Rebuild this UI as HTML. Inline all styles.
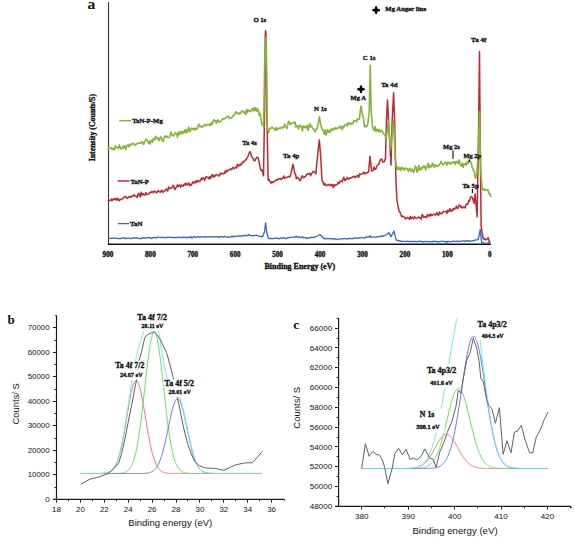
<!DOCTYPE html>
<html><head><meta charset="utf-8"><style>
html,body{margin:0;padding:0;background:#fff;width:575px;height:540px;overflow:hidden;}
svg{display:block;}
svg text{font-family:"Liberation Serif",serif;font-weight:bold;fill:#111;}
svg text.s{font-family:"Liberation Sans",sans-serif;font-weight:normal;}
</style></head><body>
<svg width="575" height="540" viewBox="0 0 575 540">
<g><line x1="108.5" y1="2" x2="108.5" y2="244.5" stroke="#333" stroke-width="1.1"/><line x1="108" y1="244.3" x2="490.8" y2="244.3" stroke="#111" stroke-width="1.4"/><polyline points="108.0,238.4 109.0,238.7 110.0,238.4 111.0,238.4 112.0,238.4 113.0,238.0 114.0,238.2 115.0,238.2 116.0,238.3 117.0,238.0 118.0,238.5 119.0,238.7 120.0,238.6 121.0,238.5 122.0,238.2 123.0,238.0 124.0,238.1 125.0,237.9 126.0,238.6 127.0,238.3 128.0,238.2 129.0,238.1 130.0,238.5 131.0,238.8 132.0,238.2 133.0,237.8 134.0,238.3 135.0,237.7 136.0,238.1 137.0,237.8 138.0,238.1 139.0,238.3 140.0,238.8 141.0,238.3 142.0,237.8 143.0,238.0 144.0,237.5 145.0,238.1 146.0,238.0 147.0,237.9 148.0,237.4 149.0,237.9 150.0,237.7 151.0,238.6 152.0,238.1 153.0,237.6 154.0,237.6 155.0,237.3 156.0,238.1 157.0,237.7 158.0,237.0 159.0,237.4 160.0,237.4 161.0,237.2 162.0,237.8 163.0,237.2 164.0,237.6 165.0,237.7 166.0,237.9 167.0,237.1 168.0,237.5 169.0,237.3 170.0,237.4 171.0,237.5 172.0,237.1 173.0,237.7 174.0,237.7 175.0,237.3 176.0,237.7 177.0,237.3 178.0,237.6 179.0,237.1 180.0,237.3 181.0,237.6 182.0,237.6 183.0,236.9 184.0,237.7 185.0,237.0 186.0,237.3 187.0,237.9 188.0,237.3 189.0,237.1 190.0,237.6 191.0,236.7 192.0,238.0 193.0,237.2 194.0,236.4 195.0,237.1 196.0,237.5 197.0,236.9 198.0,236.7 199.0,237.4 200.0,236.8 201.0,237.0 202.0,236.6 203.0,236.8 204.0,236.8 205.0,236.6 206.0,237.3 207.0,237.0 208.0,236.7 209.0,236.9 210.0,237.0 211.0,236.8 212.0,236.7 213.0,236.8 214.0,236.5 215.0,237.2 216.0,236.9 217.0,236.7 218.0,236.7 219.0,237.6 220.0,236.5 221.0,236.8 222.0,236.5 223.0,237.3 224.0,236.5 225.0,236.7 226.0,236.9 227.0,237.1 228.0,237.0 229.0,237.0 230.0,237.1 231.0,237.1 232.0,235.9 233.0,237.0 234.0,236.4 235.0,236.7 236.0,236.2 237.0,236.2 238.0,236.0 239.0,236.1 240.1,235.9 241.1,236.2 242.1,235.8 243.1,235.6 244.1,235.8 245.1,235.2 246.1,235.4 247.1,235.8 248.1,235.1 249.1,234.6 250.1,235.7 251.2,235.5 252.2,235.7 253.2,235.9 254.3,235.7 255.3,235.4 256.3,235.1 257.3,235.6 258.4,236.0 259.4,236.2 260.4,236.6 261.5,236.3 262.5,236.8 263.5,234.2 264.5,232.0 265.6,223.0 266.8,232.0 268.3,238.0 269.3,238.7 270.3,238.3 271.3,238.7 272.3,238.6 273.3,238.6 274.3,238.0 275.3,238.3 276.3,238.0 277.3,238.4 278.4,238.2 279.4,238.9 280.4,237.9 281.4,238.3 282.4,238.2 283.4,237.6 284.4,238.3 285.4,238.4 286.4,238.7 287.4,238.2 288.5,237.7 289.6,237.4 290.8,237.3 291.9,237.3 293.0,237.1 294.1,236.8 295.1,237.2 296.2,236.2 297.2,237.2 298.2,237.0 299.3,236.9 300.3,237.8 301.3,237.2 302.4,236.8 303.4,237.8 304.4,237.8 305.5,237.3 306.5,238.5 307.6,237.8 308.6,238.2 309.7,238.1 310.8,237.4 311.8,237.1 312.9,237.6 314.0,237.4 315.0,236.7 316.1,236.5 317.4,236.0 318.6,235.3 319.9,234.5 321.2,235.7 322.4,237.0 323.7,238.6 324.7,238.3 325.7,239.0 326.8,238.5 327.8,238.6 328.8,238.4 329.8,238.7 330.8,239.1 331.9,238.7 332.9,238.6 333.9,239.3 334.9,238.7 335.9,239.2 336.9,239.4 338.0,239.5 339.0,238.8 340.0,238.8 341.0,238.8 342.0,239.1 343.1,238.7 344.1,238.6 345.1,238.5 346.1,238.8 347.1,239.0 348.2,238.8 349.2,238.4 350.2,238.2 351.2,238.8 352.2,238.6 353.3,238.5 354.3,238.4 355.3,237.9 356.4,238.0 357.4,238.3 358.5,237.9 359.5,238.1 360.6,237.8 361.6,237.7 362.7,237.6 363.7,237.8 364.8,238.2 365.8,236.9 366.9,237.2 367.9,237.0 369.0,237.0 370.0,235.6 371.0,237.5 372.2,237.1 373.4,237.2 374.5,237.1 375.7,237.2 376.7,237.0 377.7,236.6 378.7,236.7 379.8,236.8 380.8,236.0 381.8,236.0 382.8,236.0 383.8,236.0 385.1,235.3 386.5,234.5 387.7,233.6 388.9,232.6 389.9,234.6 391.0,236.7 392.0,234.8 393.0,232.9 394.0,231.0 395.0,235.3 396.0,239.7 397.0,240.4 398.1,240.5 399.1,241.2 400.1,240.7 401.1,241.4 402.2,241.5 403.2,241.4 404.3,241.3 405.3,241.3 406.4,241.7 407.4,241.1 408.5,241.5 409.5,241.5 410.6,241.5 411.6,241.5 412.7,241.7 413.7,241.2 414.8,241.8 415.8,241.2 416.9,241.8 417.9,241.3 419.0,241.3 420.0,241.2 421.0,241.3 422.0,241.6 423.0,242.2 424.0,241.7 425.0,241.3 426.0,241.7 427.0,241.7 428.0,241.5 429.0,241.7 430.0,242.0 431.0,241.5 432.0,242.2 433.0,241.2 434.0,241.3 435.0,241.5 436.0,241.4 437.0,241.4 438.0,242.2 439.0,241.7 440.0,241.6 441.0,241.5 442.0,241.2 443.0,241.1 444.0,241.7 445.0,241.9 446.0,241.3 447.0,242.3 448.0,241.3 449.0,241.6 450.0,241.9 451.0,241.7 452.0,241.7 453.0,241.1 454.0,241.2 455.0,241.4 456.1,241.7 457.1,240.9 458.1,241.4 459.1,241.5 460.1,241.7 461.1,241.2 462.1,241.0 463.1,240.8 464.1,240.9 465.1,241.6 466.1,240.7 467.2,240.8 468.2,240.6 469.2,241.4 470.2,241.0 471.2,241.2 472.2,240.9 473.2,240.7 474.2,240.8 475.2,239.9 476.2,239.9 477.2,239.8 478.2,239.5 479.2,234.5 480.2,229.5 481.6,242.4 482.7,242.3 483.9,242.8 485.0,243.4 486.1,243.5 487.2,243.2 488.2,242.8 489.3,243.3 490.4,243.4" fill="none" stroke="#2e6ac0" stroke-width="1.3" stroke-linejoin="round" /><polyline points="108.0,199.7 108.8,200.6 109.6,200.4 110.4,200.4 111.3,199.1 112.1,200.6 112.9,199.0 113.7,199.6 114.5,198.8 115.3,199.6 116.2,198.4 117.0,200.1 117.8,198.3 118.6,200.1 119.4,200.7 120.2,199.2 121.1,199.5 121.9,199.2 122.7,198.5 123.5,197.9 124.3,196.7 125.1,196.8 125.9,196.6 126.7,198.2 127.5,198.2 128.3,197.5 129.1,196.5 129.9,196.7 130.7,197.4 131.5,196.0 132.3,196.0 133.2,196.2 134.0,194.7 134.8,195.8 135.6,196.0 136.4,196.4 137.2,197.5 138.0,194.2 138.8,193.2 139.6,195.6 140.4,197.0 141.2,192.2 142.0,195.1 142.8,193.6 143.6,194.2 144.4,195.1 145.2,194.6 146.0,192.6 146.9,194.3 147.7,194.5 148.5,194.1 149.3,193.1 150.1,192.2 150.9,192.8 151.7,191.5 152.5,191.6 153.3,192.8 154.1,191.4 154.9,191.1 155.7,192.3 156.6,192.7 157.4,191.8 158.2,190.4 159.0,191.6 159.8,191.9 160.6,192.3 161.4,190.4 162.2,190.5 163.0,192.4 163.8,191.4 164.6,191.1 165.4,190.4 166.2,188.9 167.0,189.8 167.8,191.2 168.6,186.9 169.4,188.3 170.3,188.7 171.1,187.9 171.9,187.9 172.7,185.8 173.5,185.5 174.3,188.4 175.1,189.7 175.9,187.5 176.7,187.1 177.5,184.7 178.3,186.5 179.1,185.4 179.9,185.0 180.7,187.2 181.5,185.0 182.3,185.6 183.1,186.1 183.9,184.6 184.7,183.7 185.5,185.3 186.3,183.1 187.1,184.7 187.9,184.5 188.8,182.9 189.6,185.8 190.4,184.3 191.2,185.2 192.0,183.8 192.8,181.9 193.6,183.2 194.4,182.0 195.2,182.8 196.0,180.7 196.8,182.3 197.6,180.7 198.4,180.5 199.2,181.7 200.0,181.3 200.8,180.2 201.6,177.9 202.4,179.4 203.2,177.8 204.0,178.3 204.8,180.4 205.6,177.1 206.4,176.5 207.3,177.4 208.1,177.9 208.9,178.8 209.7,176.6 210.5,178.6 211.3,176.2 212.2,174.6 213.0,177.1 213.8,175.5 214.6,176.9 215.4,175.5 216.2,174.5 217.0,174.9 217.9,174.9 218.7,176.2 219.5,175.7 220.3,173.3 221.1,174.0 221.9,173.3 222.7,173.5 223.6,173.9 224.4,173.4 225.2,170.9 226.0,172.5 226.8,170.2 227.6,171.1 228.5,169.9 229.3,169.9 230.1,169.3 230.9,169.0 231.7,169.7 232.5,167.8 233.4,167.3 234.2,168.6 235.0,168.0 235.8,167.0 236.6,167.9 237.4,164.5 238.3,166.0 239.1,164.9 239.9,165.7 240.7,164.0 241.6,164.6 242.5,161.9 243.4,162.3 244.3,161.2 245.2,159.9 246.1,159.9 247.0,157.8 248.0,156.4 248.9,153.5 249.9,151.7 250.7,153.3 251.5,156.3 252.3,157.4 253.1,158.5 253.9,160.6 254.9,160.9 256.0,158.4 257.0,157.2 258.0,157.7 259.0,161.3 260.0,166.7 261.0,170.4 261.8,169.8 262.7,172.6 263.5,175.8 264.6,110.0 265.3,33.0 265.6,30.8 265.9,33.0 266.8,110.0 268.2,180.4 269.2,179.5 270.1,182.1 271.1,183.2 272.0,181.5 272.8,182.7 273.7,181.8 274.6,181.3 275.5,180.3 276.3,180.3 277.2,179.3 278.0,179.9 278.8,178.5 279.7,178.8 280.5,178.5 281.3,179.6 282.1,178.7 282.9,177.8 283.8,176.0 284.6,178.4 285.4,177.5 286.2,177.4 287.1,177.4 287.9,176.9 288.7,176.2 289.6,177.0 290.4,176.0 291.2,172.4 292.1,168.0 292.9,164.3 293.8,168.0 294.6,173.0 295.5,174.3 296.3,178.7 297.1,177.4 298.0,178.1 298.8,178.2 299.6,180.7 300.5,180.2 301.3,178.3 302.2,175.7 303.1,177.4 304.0,177.8 304.8,176.4 305.7,176.3 306.5,174.7 307.3,173.9 308.1,174.2 308.9,173.7 309.8,173.3 310.6,175.7 311.4,173.7 312.2,173.0 313.0,171.6 313.8,171.5 314.9,172.6 315.9,173.6 317.0,161.7 318.2,150.0 319.3,139.9 320.6,155.0 322.0,180.7 323.0,181.6 324.0,185.0 324.8,183.6 325.7,185.1 326.5,185.8 327.4,184.8 328.2,184.3 329.1,185.2 329.9,185.7 330.8,184.2 331.6,185.5 332.5,184.9 333.3,187.8 334.2,184.6 335.0,185.5 335.8,185.0 336.6,184.5 337.4,184.4 338.2,182.4 339.1,183.3 339.9,181.6 340.7,181.5 341.5,180.8 342.3,181.6 343.1,178.9 343.9,177.2 344.7,180.4 345.5,180.3 346.4,178.8 347.2,177.5 348.0,178.8 348.8,179.2 349.6,178.0 350.4,178.5 351.2,177.5 352.0,177.6 352.9,176.7 353.7,176.8 354.5,176.2 355.3,177.8 356.2,177.0 357.0,175.5 357.9,175.8 358.7,177.4 359.6,173.8 360.4,174.6 361.2,174.3 362.1,173.9 362.9,173.6 363.8,172.0 364.6,174.0 365.5,173.0 366.5,173.3 367.6,172.2 368.6,172.0 370.0,156.3 370.8,163.4 371.6,171.0 372.4,170.5 373.2,170.4 374.1,166.9 374.9,169.3 375.7,169.3 376.5,167.4 377.3,165.5 378.2,164.4 379.0,164.0 379.8,161.2 380.8,159.2 381.8,159.1 382.8,161.9 383.8,162.1 384.6,161.1 385.5,158.3 386.5,120.0 387.5,99.9 388.8,125.0 389.9,145.0 391.0,165.0 392.2,120.0 393.6,92.7 394.6,120.0 395.2,150.0 396.0,182.0 397.0,200.3 398.5,208.3 399.3,211.6 400.1,212.2 401.1,215.4 402.0,216.9 403.0,216.0 403.8,216.7 404.6,217.4 405.4,218.9 406.2,218.7 407.0,217.4 407.8,217.7 408.6,218.3 409.5,219.3 410.3,216.4 411.1,218.6 412.0,217.0 412.8,218.6 413.7,218.8 414.5,216.6 415.4,217.8 416.2,218.0 417.1,218.2 417.9,217.7 418.8,216.9 419.6,217.8 420.5,217.7 421.3,219.2 422.2,214.5 423.1,216.0 423.9,217.4 424.8,216.6 425.6,217.0 426.5,217.8 427.3,214.7 428.2,216.1 429.0,214.7 429.9,216.1 430.7,214.0 431.6,215.5 432.4,215.3 433.3,214.5 434.2,214.2 435.0,214.8 435.9,215.1 436.7,212.6 437.6,214.1 438.4,215.5 439.3,212.1 440.1,213.8 441.0,213.1 441.8,213.7 442.7,212.5 443.5,211.6 444.4,211.4 445.2,211.6 446.0,211.5 446.8,213.6 447.6,210.2 448.4,211.8 449.2,211.0 450.0,208.6 450.8,211.3 451.6,210.3 452.4,210.9 453.2,208.6 454.0,209.6 454.8,208.2 455.6,208.5 456.5,206.1 457.4,208.5 458.2,208.1 459.1,205.1 460.0,205.3 460.9,207.2 461.8,206.6 462.6,208.1 463.5,207.1 464.4,206.9 465.2,208.0 466.1,204.4 466.9,204.0 467.8,204.4 468.7,200.8 469.6,201.2 470.4,197.3 471.3,196.7 472.2,197.3 473.1,199.8 474.0,203.2 475.1,194.1 476.1,205.2 477.1,216.7 478.3,150.0 479.5,51.5 480.3,150.0 481.1,225.6 482.0,231.9 482.9,237.7 483.8,239.2 484.7,238.7 485.6,240.0 486.5,239.3 487.3,238.9 488.2,237.8 489.3,242.0 490.4,242.6" fill="none" stroke="#bb2a30" stroke-width="1.5" stroke-linejoin="round" /><polyline points="108.0,149.8 108.8,147.3 109.6,148.5 110.4,148.2 111.3,148.1 112.1,149.3 112.9,148.0 113.7,149.7 114.5,149.3 115.3,145.9 116.2,147.3 117.0,147.7 117.8,147.1 118.6,148.6 119.4,144.7 120.2,147.7 121.1,148.6 121.9,149.0 122.7,146.2 123.5,148.1 124.3,146.1 125.1,146.1 125.9,149.3 126.7,145.7 127.5,145.8 128.3,144.4 129.1,146.9 129.9,145.0 130.7,145.4 131.5,143.6 132.3,144.2 133.2,143.3 134.0,144.0 134.8,145.3 135.6,145.2 136.4,143.6 137.2,143.5 138.0,143.8 138.8,142.9 139.6,143.1 140.4,143.3 141.2,142.8 142.0,141.6 142.8,143.0 143.6,144.5 144.4,142.0 145.2,140.6 146.0,139.1 146.9,139.9 147.7,141.1 148.5,143.2 149.3,141.3 150.1,144.1 150.9,140.4 151.7,140.3 152.5,142.3 153.3,138.8 154.1,138.6 154.9,140.0 155.7,136.4 156.6,138.1 157.4,138.7 158.2,137.7 159.0,140.8 159.8,138.6 160.6,137.0 161.4,137.4 162.2,140.8 163.0,141.4 163.8,139.0 164.6,136.4 165.4,135.9 166.2,137.0 167.0,136.0 167.8,137.6 168.6,137.5 169.4,137.2 170.3,134.7 171.1,132.1 171.9,135.2 172.7,135.4 173.5,136.0 174.3,134.0 175.1,132.8 175.9,134.0 176.7,133.8 177.5,137.1 178.3,131.9 179.1,134.8 179.9,133.9 180.7,131.5 181.5,131.8 182.3,134.0 183.1,131.6 183.9,132.6 184.7,130.0 185.5,132.8 186.3,129.6 187.1,132.5 187.9,129.9 188.8,127.1 189.6,131.6 190.4,131.1 191.2,128.4 192.0,128.4 192.8,129.3 193.6,128.4 194.4,130.0 195.2,128.1 196.0,129.5 196.8,129.3 197.6,127.6 198.4,125.4 199.2,124.2 200.1,126.7 200.9,126.7 201.7,126.3 202.5,127.1 203.4,126.0 204.2,124.7 205.0,125.3 205.8,126.0 206.6,124.6 207.4,124.6 208.2,125.0 209.0,124.2 209.8,125.5 210.6,125.0 211.4,122.4 212.2,124.7 213.1,121.4 213.9,119.5 214.7,121.2 215.5,120.6 216.3,123.4 217.1,121.0 217.9,119.9 218.7,121.9 219.5,122.2 220.3,121.1 221.1,121.0 221.9,119.6 222.7,119.1 223.6,118.8 224.4,118.9 225.2,118.3 226.0,117.7 226.8,116.7 227.6,116.8 228.5,116.0 229.3,118.8 230.1,118.0 230.9,118.0 231.7,118.1 232.5,116.3 233.4,115.8 234.2,114.7 235.0,114.0 235.8,111.5 236.6,113.1 237.4,112.7 238.3,113.9 239.1,114.0 239.9,112.6 240.7,113.3 241.5,111.4 242.4,110.9 243.2,111.7 244.1,113.1 244.9,111.8 245.8,114.3 246.6,109.5 247.5,112.8 248.3,109.8 249.2,111.1 250.0,110.8 250.8,111.5 251.6,109.1 252.4,108.6 253.3,110.9 254.1,107.8 254.9,110.8 255.8,107.7 256.7,111.4 257.6,108.8 258.5,110.5 259.4,115.7 260.2,114.0 261.1,119.5 262.0,124.4 262.8,124.3 263.6,127.4 264.9,50.0 265.6,37.5 266.3,50.0 267.4,127.0 268.6,132.9 269.8,128.8 271.0,128.0 271.9,127.4 272.8,127.6 273.7,128.5 274.5,129.3 275.4,130.5 276.3,127.4 277.2,129.8 278.0,129.4 278.8,128.1 279.7,128.2 280.5,128.7 281.3,127.2 282.1,127.6 282.9,128.1 283.8,126.5 284.6,124.1 285.4,126.7 286.2,127.0 287.0,128.6 287.8,124.2 288.6,121.3 289.4,122.2 290.3,124.7 291.1,123.6 291.9,123.2 292.7,122.9 293.5,122.6 294.3,123.1 295.1,122.0 295.9,127.0 296.7,125.6 297.6,125.7 298.4,129.0 299.2,126.5 300.0,125.0 300.8,126.2 301.6,126.9 302.4,131.1 303.2,125.9 304.1,127.3 304.9,126.4 305.7,128.1 306.5,127.2 307.3,125.3 308.2,130.4 309.0,126.3 309.8,123.8 310.6,127.0 311.5,125.9 312.4,127.7 313.2,128.8 314.0,129.9 314.9,132.0 315.9,129.0 316.8,129.7 318.3,123.0 319.4,116.8 320.6,124.0 322.0,129.3 322.8,130.2 323.6,130.7 324.4,134.2 325.2,129.8 326.0,135.1 326.8,132.8 327.6,129.6 328.5,131.6 329.3,132.7 330.1,130.0 330.9,131.5 331.7,128.4 332.5,129.6 333.4,130.0 334.2,128.0 335.0,129.1 335.8,127.7 336.6,128.7 337.4,128.7 338.2,127.8 339.1,126.9 339.9,128.1 340.7,126.2 341.5,127.6 342.3,129.8 343.1,126.1 343.9,127.0 344.7,125.9 345.6,124.2 346.4,124.4 347.2,126.0 348.0,122.7 348.8,123.8 349.7,122.8 350.5,124.6 351.3,123.6 352.2,123.6 353.0,123.5 353.9,120.4 354.8,121.1 355.7,120.8 356.5,121.8 357.4,118.8 358.4,119.7 359.4,119.0 360.2,111.6 361.0,106.0 362.5,115.1 363.5,118.6 364.5,126.9 365.5,125.5 366.6,127.0 367.6,125.0 369.2,113.1 370.2,65.3 371.2,111.0 372.6,126.8 373.5,129.4 374.3,130.5 375.1,126.5 376.0,131.3 376.9,129.3 377.7,129.5 378.6,131.6 379.4,129.6 380.3,132.0 381.2,131.1 382.1,130.7 382.9,132.8 383.8,133.9 384.9,135.4 385.9,137.5 387.0,133.0 388.3,121.0 389.4,135.3 390.4,149.7 391.4,142.3 392.3,135.0 393.4,121.2 394.5,140.0 395.4,160.0 396.5,167.5 397.4,169.4 398.2,166.9 399.1,169.5 400.0,168.0 400.9,170.6 401.7,167.2 402.6,168.8 403.4,168.0 404.3,170.1 405.1,168.1 406.0,168.6 406.8,168.3 407.7,170.4 408.5,171.2 409.4,168.3 410.2,169.2 411.1,171.3 412.0,169.1 412.8,171.1 413.7,172.3 414.5,169.9 415.4,165.9 416.2,167.6 417.1,172.1 417.9,170.3 418.8,165.4 419.6,169.9 420.5,169.8 421.3,167.4 422.2,169.0 423.1,165.9 423.9,167.0 424.8,166.1 425.6,170.0 426.5,167.4 427.3,166.3 428.2,163.2 429.0,168.0 429.9,165.4 430.7,166.6 431.6,166.8 432.4,163.1 433.3,164.6 434.2,167.2 435.0,164.9 435.9,164.9 436.7,166.7 437.6,166.1 438.4,166.0 439.3,165.0 440.1,163.8 441.0,161.3 441.8,162.9 442.7,164.6 443.5,164.1 444.4,163.5 445.2,162.1 446.0,162.5 446.8,165.4 447.6,162.2 448.4,163.2 449.3,162.3 450.1,164.3 450.9,164.2 451.7,162.2 452.5,162.0 453.3,162.7 454.2,161.9 455.2,164.4 456.1,161.2 457.0,161.9 458.0,163.5 458.9,159.8 460.0,164.3 461.1,166.2 462.2,163.0 463.3,167.4 464.2,163.9 465.2,163.6 466.1,165.2 467.0,161.7 468.0,163.7 468.9,160.4 470.0,161.2 471.1,162.5 472.2,167.2 473.3,170.1 474.4,171.7 475.5,178.2 476.7,176.1 477.5,163.9 478.3,150.0 479.5,111.5 480.3,150.0 481.0,175.0 482.2,188.5 483.1,190.0 483.9,188.7 484.8,190.2 485.6,190.4 486.7,189.8 487.8,189.5 488.8,193.4 489.7,193.5 490.7,196.9" fill="none" stroke="#86b43a" stroke-width="1.6" stroke-linejoin="round" /><text x="253.4" y="21.6" font-size="7.0" textLength="12.8" lengthAdjust="spacingAndGlyphs" stroke="#111" stroke-width="0.35">O 1s</text><text x="362.8" y="60.0" font-size="7.0" textLength="12.6" lengthAdjust="spacingAndGlyphs" stroke="#111" stroke-width="0.35">C 1s</text><text x="381.2" y="86.8" font-size="7.0" textLength="16.3" lengthAdjust="spacingAndGlyphs" stroke="#111" stroke-width="0.35">Ta 4d</text><text x="350.6" y="100.3" font-size="7.0" textLength="15.3" lengthAdjust="spacingAndGlyphs" stroke="#111" stroke-width="0.35">Mg A</text><text x="314.1" y="111.4" font-size="7.0" textLength="12.6" lengthAdjust="spacingAndGlyphs" stroke="#111" stroke-width="0.35">N 1s</text><text x="283.1" y="157.8" font-size="7.0" textLength="16.3" lengthAdjust="spacingAndGlyphs" stroke="#111" stroke-width="0.35">Ta 4p</text><text x="242.3" y="145.1" font-size="7.0" textLength="14.6" lengthAdjust="spacingAndGlyphs" stroke="#111" stroke-width="0.35">Ta 4s</text><text x="471.1" y="41.9" font-size="7.0" textLength="15.3" lengthAdjust="spacingAndGlyphs" stroke="#111" stroke-width="0.35">Ta 4f</text><text x="443.1" y="148.8" font-size="7.0" textLength="16.8" lengthAdjust="spacingAndGlyphs" stroke="#111" stroke-width="0.35">Mg 2s</text><text x="463.4" y="158.3" font-size="7.0" textLength="17.8" lengthAdjust="spacingAndGlyphs" stroke="#111" stroke-width="0.35">Mg 2p</text><text x="462.4" y="188.0" font-size="7.0" textLength="16.3" lengthAdjust="spacingAndGlyphs" stroke="#111" stroke-width="0.35">Ta 5p</text><line x1="119.3" y1="120.7" x2="131.1" y2="120.7" stroke="#86b43a" stroke-width="1.5"/><text x="132.2" y="122.7" font-size="7.0" textLength="30.6" lengthAdjust="spacingAndGlyphs" stroke="#111" stroke-width="0.35">TaN-P-Mg</text><line x1="117.7" y1="181" x2="129.4" y2="181" stroke="#bb2a30" stroke-width="1.5"/><text x="130.4" y="183.5" font-size="7.0" textLength="18.6" lengthAdjust="spacingAndGlyphs" stroke="#111" stroke-width="0.35">TaN-P</text><line x1="117.8" y1="223.6" x2="129.3" y2="223.6" stroke="#2e6ac0" stroke-width="1.3"/><text x="130.1" y="225.8" font-size="7.0" textLength="12.5" lengthAdjust="spacingAndGlyphs" stroke="#111" stroke-width="0.35">TaN</text><path d="M372.0,10.1 Q375.07500000000005,9.075 376.1,6.0 Q377.125,9.075 380.20000000000005,10.1 Q377.125,11.125 376.1,14.2 Q375.07500000000005,11.125 372.0,10.1 Z" fill="#000"/><rect x="372.20500000000004" y="9.049999999999999" width="7.789999999999999" height="2.1" rx="0.8" fill="#000"/><rect x="375.05" y="6.205" width="2.1" height="7.789999999999999" rx="0.8" fill="#000"/><text x="385.3" y="11.3" font-size="6.8" textLength="41.0" lengthAdjust="spacingAndGlyphs" stroke="#111" stroke-width="0.35">Mg Auger line</text><path d="M357.0,89.2 Q360.0,88.2 361.0,85.2 Q362.0,88.2 365.0,89.2 Q362.0,90.2 361.0,93.2 Q360.0,90.2 357.0,89.2 Z" fill="#000"/><rect x="357.2" y="88.15" width="7.6" height="2.1" rx="0.8" fill="#000"/><rect x="359.95" y="85.4" width="2.1" height="7.6" rx="0.8" fill="#000"/><line x1="453" y1="150.2" x2="453" y2="158.8" stroke="#000" stroke-width="1.1"/><line x1="469.4" y1="159.6" x2="469.4" y2="162" stroke="#000" stroke-width="1.1"/><line x1="472.4" y1="188.9" x2="472.4" y2="193" stroke="#000" stroke-width="1.1"/><text x="102.58" y="257.0" font-size="7.2" textLength="10.7" lengthAdjust="spacingAndGlyphs" stroke="#111" stroke-width="0.35">900</text><text x="145.01" y="257.0" font-size="7.2" textLength="10.7" lengthAdjust="spacingAndGlyphs" stroke="#111" stroke-width="0.35">800</text><text x="187.44" y="257.0" font-size="7.2" textLength="10.6" lengthAdjust="spacingAndGlyphs" stroke="#111" stroke-width="0.35">700</text><text x="229.87" y="257.0" font-size="7.2" textLength="10.6" lengthAdjust="spacingAndGlyphs" stroke="#111" stroke-width="0.35">600</text><text x="272.3" y="257.0" font-size="7.2" textLength="10.6" lengthAdjust="spacingAndGlyphs" stroke="#111" stroke-width="0.35">500</text><text x="314.73" y="257.0" font-size="7.2" textLength="10.6" lengthAdjust="spacingAndGlyphs" stroke="#111" stroke-width="0.35">400</text><text x="357.16" y="257.0" font-size="7.2" textLength="10.6" lengthAdjust="spacingAndGlyphs" stroke="#111" stroke-width="0.35">300</text><text x="399.58" y="257.0" font-size="7.2" textLength="10.7" lengthAdjust="spacingAndGlyphs" stroke="#111" stroke-width="0.35">200</text><text x="442.02" y="257.0" font-size="7.2" textLength="10.7" lengthAdjust="spacingAndGlyphs" stroke="#111" stroke-width="0.35">100</text><text x="488.0" y="257.0" font-size="7.2" textLength="3.5" lengthAdjust="spacingAndGlyphs" stroke="#111" stroke-width="0.35">0</text><text x="264.5" y="269.2" font-size="8.0" textLength="70.6" lengthAdjust="spacingAndGlyphs" stroke="#111" stroke-width="0.35">Binding Energy (eV)</text><g transform="translate(94.7,161.3) rotate(-90)"><text x="0" y="0" font-size="7.3" textLength="67.4" lengthAdjust="spacingAndGlyphs" stroke="#111" stroke-width="0.35">Intensity (Counts/S)</text></g><text x="87.6" y="8.7" font-size="15.5" text-anchor="start">a</text></g>
<g class="b"><line x1="56.5" y1="315.09999999999997" x2="56.5" y2="500.0" stroke="#1a1a1a" stroke-width="1.2"/><line x1="53.2" y1="499.4" x2="284.3" y2="499.4" stroke="#1a1a1a" stroke-width="1.2"/><line x1="54.9" y1="315.29999999999995" x2="56.5" y2="316.2" stroke="#1a1a1a" stroke-width="0.9"/><line x1="284.3" y1="499.4" x2="284.6" y2="500.9" stroke="#1a1a1a" stroke-width="0.9"/><line x1="56.5" y1="499.4" x2="56.5" y2="502.59999999999997" stroke="#1a1a1a" stroke-width="1"/><text x="56.5" y="511.8" font-size="7.9" text-anchor="middle" fill="#111" class="s">18</text><line x1="80.5" y1="499.4" x2="80.5" y2="502.59999999999997" stroke="#1a1a1a" stroke-width="1"/><text x="80.4" y="511.8" font-size="7.9" text-anchor="middle" fill="#111" class="s">20</text><line x1="104.5" y1="499.4" x2="104.5" y2="502.59999999999997" stroke="#1a1a1a" stroke-width="1"/><text x="104.3" y="511.8" font-size="7.9" text-anchor="middle" fill="#111" class="s">22</text><line x1="128.5" y1="499.4" x2="128.5" y2="502.59999999999997" stroke="#1a1a1a" stroke-width="1"/><text x="128.2" y="511.8" font-size="7.9" text-anchor="middle" fill="#111" class="s">24</text><line x1="152.5" y1="499.4" x2="152.5" y2="502.59999999999997" stroke="#1a1a1a" stroke-width="1"/><text x="152.1" y="511.8" font-size="7.9" text-anchor="middle" fill="#111" class="s">26</text><line x1="176.5" y1="499.4" x2="176.5" y2="502.59999999999997" stroke="#1a1a1a" stroke-width="1"/><text x="176.0" y="511.8" font-size="7.9" text-anchor="middle" fill="#111" class="s">28</text><line x1="199.5" y1="499.4" x2="199.5" y2="502.59999999999997" stroke="#1a1a1a" stroke-width="1"/><text x="199.9" y="511.8" font-size="7.9" text-anchor="middle" fill="#111" class="s">30</text><line x1="223.5" y1="499.4" x2="223.5" y2="502.59999999999997" stroke="#1a1a1a" stroke-width="1"/><text x="223.8" y="511.8" font-size="7.9" text-anchor="middle" fill="#111" class="s">32</text><line x1="247.5" y1="499.4" x2="247.5" y2="502.59999999999997" stroke="#1a1a1a" stroke-width="1"/><text x="247.7" y="511.8" font-size="7.9" text-anchor="middle" fill="#111" class="s">34</text><line x1="271.5" y1="499.4" x2="271.5" y2="502.59999999999997" stroke="#1a1a1a" stroke-width="1"/><text x="271.6" y="511.8" font-size="7.9" text-anchor="middle" fill="#111" class="s">36</text><line x1="68.5" y1="499.4" x2="68.5" y2="501.2" stroke="#1a1a1a" stroke-width="1"/><line x1="92.5" y1="499.4" x2="92.5" y2="501.2" stroke="#1a1a1a" stroke-width="1"/><line x1="116.5" y1="499.4" x2="116.5" y2="501.2" stroke="#1a1a1a" stroke-width="1"/><line x1="140.5" y1="499.4" x2="140.5" y2="501.2" stroke="#1a1a1a" stroke-width="1"/><line x1="164.5" y1="499.4" x2="164.5" y2="501.2" stroke="#1a1a1a" stroke-width="1"/><line x1="187.5" y1="499.4" x2="187.5" y2="501.2" stroke="#1a1a1a" stroke-width="1"/><line x1="211.5" y1="499.4" x2="211.5" y2="501.2" stroke="#1a1a1a" stroke-width="1"/><line x1="235.5" y1="499.4" x2="235.5" y2="501.2" stroke="#1a1a1a" stroke-width="1"/><line x1="259.5" y1="499.4" x2="259.5" y2="501.2" stroke="#1a1a1a" stroke-width="1"/><line x1="52.9" y1="499.5" x2="56.5" y2="499.5" stroke="#1a1a1a" stroke-width="1"/><text x="49.6" y="502.0" font-size="7.9" text-anchor="end" fill="#111" class="s">0</text><line x1="52.9" y1="474.5" x2="56.5" y2="474.5" stroke="#1a1a1a" stroke-width="1"/><text x="49.6" y="477.49" font-size="7.9" text-anchor="end" fill="#111" class="s">10000</text><line x1="52.9" y1="450.5" x2="56.5" y2="450.5" stroke="#1a1a1a" stroke-width="1"/><text x="49.6" y="452.98" font-size="7.9" text-anchor="end" fill="#111" class="s">20000</text><line x1="52.9" y1="425.5" x2="56.5" y2="425.5" stroke="#1a1a1a" stroke-width="1"/><text x="49.6" y="428.47" font-size="7.9" text-anchor="end" fill="#111" class="s">30000</text><line x1="52.9" y1="401.5" x2="56.5" y2="401.5" stroke="#1a1a1a" stroke-width="1"/><text x="49.6" y="403.96000000000004" font-size="7.9" text-anchor="end" fill="#111" class="s">40000</text><line x1="52.9" y1="376.5" x2="56.5" y2="376.5" stroke="#1a1a1a" stroke-width="1"/><text x="49.6" y="379.45000000000005" font-size="7.9" text-anchor="end" fill="#111" class="s">50000</text><line x1="52.9" y1="352.5" x2="56.5" y2="352.5" stroke="#1a1a1a" stroke-width="1"/><text x="49.6" y="354.94" font-size="7.9" text-anchor="end" fill="#111" class="s">60000</text><line x1="52.9" y1="327.5" x2="56.5" y2="327.5" stroke="#1a1a1a" stroke-width="1"/><text x="49.6" y="330.43" font-size="7.9" text-anchor="end" fill="#111" class="s">70000</text><line x1="54.6" y1="487.5" x2="56.5" y2="487.5" stroke="#1a1a1a" stroke-width="1"/><line x1="54.6" y1="462.5" x2="56.5" y2="462.5" stroke="#1a1a1a" stroke-width="1"/><line x1="54.6" y1="438.5" x2="56.5" y2="438.5" stroke="#1a1a1a" stroke-width="1"/><line x1="54.6" y1="413.5" x2="56.5" y2="413.5" stroke="#1a1a1a" stroke-width="1"/><line x1="54.6" y1="389.5" x2="56.5" y2="389.5" stroke="#1a1a1a" stroke-width="1"/><line x1="54.6" y1="364.5" x2="56.5" y2="364.5" stroke="#1a1a1a" stroke-width="1"/><line x1="54.6" y1="340.5" x2="56.5" y2="340.5" stroke="#1a1a1a" stroke-width="1"/><polyline points="80.0,473.5 80.5,473.5 81.0,473.5 81.5,473.5 82.0,473.5 82.5,473.5 83.0,473.5 83.5,473.5 84.0,473.5 84.5,473.5 85.0,473.5 85.5,473.5 86.0,473.5 86.5,473.5 87.0,473.5 87.5,473.5 88.0,473.5 88.5,473.5 89.0,473.5 89.5,473.5 90.0,473.5 90.5,473.5 91.0,473.5 91.5,473.5 92.0,473.5 92.5,473.5 93.0,473.5 93.5,473.5 94.0,473.5 94.5,473.5 95.0,473.5 95.5,473.5 96.0,473.5 96.5,473.5 97.0,473.5 97.5,473.5 98.0,473.5 98.5,473.5 99.0,473.5 99.5,473.5 100.0,473.5 100.5,473.4 101.0,473.4 101.5,473.4 102.0,473.4 102.5,473.4 103.0,473.3 103.5,473.3 104.0,473.3 104.5,473.2 105.0,473.2 105.5,473.1 106.0,473.0 106.5,472.9 107.0,472.8 107.5,472.7 108.0,472.5 108.5,472.4 109.0,472.2 109.5,471.9 110.0,471.7 110.5,471.4 111.0,471.1 111.5,470.7 112.0,470.3 112.5,469.8 113.0,469.3 113.5,468.7 114.0,468.0 114.5,467.2 115.0,466.4 115.5,465.5 116.0,464.5 116.5,463.4 117.0,462.2 117.5,460.9 118.0,459.5 118.5,458.0 119.0,456.4 119.5,454.6 120.0,452.7 120.5,450.7 121.0,448.6 121.5,446.4 122.0,444.1 122.5,441.6 123.0,439.1 123.5,436.4 124.0,433.6 124.5,430.8 125.0,427.9 125.5,425.0 126.0,422.0 126.5,419.0 127.0,415.9 127.5,412.9 128.0,409.9 128.5,407.0 129.0,404.1 129.5,401.3 130.0,398.6 130.5,396.0 131.0,393.6 131.5,391.3 132.0,389.2 132.5,387.3 133.0,385.6 133.5,384.2 134.0,382.9 134.5,382.0 135.0,381.2 135.5,380.8 136.0,380.6 136.5,380.7 137.0,381.0 137.5,381.6 138.0,382.5 138.5,383.6 139.0,385.0 139.5,386.6 140.0,388.4 140.5,390.4 141.0,392.6 141.5,395.0 142.0,397.5 142.5,400.2 143.0,403.0 143.5,405.8 144.0,408.7 144.5,411.7 145.0,414.7 145.5,417.8 146.0,420.8 146.5,423.8 147.0,426.8 147.5,429.7 148.0,432.5 148.5,435.3 149.0,438.0 149.5,440.6 150.0,443.1 150.5,445.5 151.0,447.8 151.5,449.9 152.0,452.0 152.5,453.9 153.0,455.7 153.5,457.4 154.0,458.9 154.5,460.4 155.0,461.7 155.5,463.0 156.0,464.1 156.5,465.1 157.0,466.1 157.5,466.9 158.0,467.7 158.5,468.4 159.0,469.0 159.5,469.6 160.0,470.1 160.5,470.5 161.0,470.9 161.5,471.3 162.0,471.6 162.5,471.8 163.0,472.1 163.5,472.3 164.0,472.5 164.5,472.6 165.0,472.8 165.5,472.9 166.0,473.0 166.5,473.1 167.0,473.1 167.5,473.2 168.0,473.2 168.5,473.3 169.0,473.3 169.5,473.4 170.0,473.4 170.5,473.4 171.0,473.4 171.5,473.4 172.0,473.4 172.5,473.5 173.0,473.5 173.5,473.5 174.0,473.5 174.5,473.5 175.0,473.5 175.5,473.5 176.0,473.5 176.5,473.5 177.0,473.5 177.5,473.5 178.0,473.5 178.5,473.5 179.0,473.5 179.5,473.5 180.0,473.5 180.5,473.5 181.0,473.5 181.5,473.5 182.0,473.5 182.5,473.5 183.0,473.5 183.5,473.5 184.0,473.5 184.5,473.5 185.0,473.5 185.5,473.5 186.0,473.5 186.5,473.5 187.0,473.5 187.5,473.5 188.0,473.5 188.5,473.5 189.0,473.5 189.5,473.5 190.0,473.5 190.5,473.5 191.0,473.5 191.5,473.5 192.0,473.5 192.5,473.5 193.0,473.5 193.5,473.5 194.0,473.5 194.5,473.5 195.0,473.5 195.5,473.5 196.0,473.5 196.5,473.5 197.0,473.5 197.5,473.5 198.0,473.5 198.5,473.5 199.0,473.5 199.5,473.5 200.0,473.5 200.5,473.5 201.0,473.5 201.5,473.5 202.0,473.5 202.5,473.5 203.0,473.5 203.5,473.5 204.0,473.5 204.5,473.5 205.0,473.5 205.5,473.5 206.0,473.5 206.5,473.5 207.0,473.5 207.5,473.5 208.0,473.5 208.5,473.5 209.0,473.5 209.5,473.5 210.0,473.5 210.5,473.5 211.0,473.5 211.5,473.5 212.0,473.5 212.5,473.5 213.0,473.5 213.5,473.5 214.0,473.5 214.5,473.5 215.0,473.5 215.5,473.5 216.0,473.5 216.5,473.5 217.0,473.5 217.5,473.5 218.0,473.5 218.5,473.5 219.0,473.5 219.5,473.5 220.0,473.5 220.5,473.5 221.0,473.5 221.5,473.5 222.0,473.5 222.5,473.5 223.0,473.5 223.5,473.5 224.0,473.5 224.5,473.5 225.0,473.5 225.5,473.5 226.0,473.5 226.5,473.5 227.0,473.5 227.5,473.5 228.0,473.5 228.5,473.5 229.0,473.5 229.5,473.5 230.0,473.5 230.5,473.5 231.0,473.5 231.5,473.5 232.0,473.5 232.5,473.5 233.0,473.5 233.5,473.5 234.0,473.5 234.5,473.5 235.0,473.5 235.5,473.5 236.0,473.5 236.5,473.5 237.0,473.5 237.5,473.5 238.0,473.5 238.5,473.5 239.0,473.5 239.5,473.5 240.0,473.5 240.5,473.5 241.0,473.5 241.5,473.5 242.0,473.5 242.5,473.5 243.0,473.5 243.5,473.5 244.0,473.5 244.5,473.5 245.0,473.5 245.5,473.5 246.0,473.5 246.5,473.5 247.0,473.5 247.5,473.5 248.0,473.5 248.5,473.5 249.0,473.5 249.5,473.5 250.0,473.5 250.5,473.5 251.0,473.5 251.5,473.5 252.0,473.5 252.5,473.5 253.0,473.5 253.5,473.5 254.0,473.5 254.5,473.5 255.0,473.5 255.5,473.5 256.0,473.5 256.5,473.5 257.0,473.5 257.5,473.5 258.0,473.5 258.5,473.5 259.0,473.5 259.5,473.5 260.0,473.5 260.5,473.5 261.0,473.5 261.5,473.5 262.0,473.5" fill="none" stroke="#f27272" stroke-width="1.0" stroke-linejoin="round" /><polyline points="80.0,473.5 80.5,473.5 81.0,473.5 81.5,473.5 82.0,473.5 82.5,473.5 83.0,473.5 83.5,473.5 84.0,473.5 84.5,473.5 85.0,473.5 85.5,473.5 86.0,473.5 86.5,473.5 87.0,473.5 87.5,473.5 88.0,473.5 88.5,473.5 89.0,473.5 89.5,473.5 90.0,473.5 90.5,473.5 91.0,473.5 91.5,473.5 92.0,473.5 92.5,473.5 93.0,473.5 93.5,473.5 94.0,473.5 94.5,473.5 95.0,473.5 95.5,473.5 96.0,473.5 96.5,473.5 97.0,473.5 97.5,473.5 98.0,473.5 98.5,473.5 99.0,473.5 99.5,473.5 100.0,473.5 100.5,473.5 101.0,473.5 101.5,473.5 102.0,473.5 102.5,473.5 103.0,473.5 103.5,473.5 104.0,473.5 104.5,473.5 105.0,473.5 105.5,473.5 106.0,473.5 106.5,473.5 107.0,473.5 107.5,473.5 108.0,473.5 108.5,473.5 109.0,473.5 109.5,473.5 110.0,473.5 110.5,473.5 111.0,473.5 111.5,473.5 112.0,473.5 112.5,473.5 113.0,473.5 113.5,473.5 114.0,473.5 114.5,473.5 115.0,473.5 115.5,473.5 116.0,473.5 116.5,473.5 117.0,473.4 117.5,473.4 118.0,473.4 118.5,473.4 119.0,473.4 119.5,473.3 120.0,473.3 120.5,473.3 121.0,473.2 121.5,473.2 122.0,473.1 122.5,473.0 123.0,472.9 123.5,472.8 124.0,472.7 124.5,472.5 125.0,472.4 125.5,472.2 126.0,471.9 126.5,471.7 127.0,471.3 127.5,471.0 128.0,470.6 128.5,470.1 129.0,469.6 129.5,469.0 130.0,468.4 130.5,467.6 131.0,466.8 131.5,465.8 132.0,464.8 132.5,463.6 133.0,462.4 133.5,461.0 134.0,459.4 134.5,457.8 135.0,455.9 135.5,453.9 136.0,451.8 136.5,449.5 137.0,447.0 137.5,444.3 138.0,441.5 138.5,438.4 139.0,435.2 139.5,431.8 140.0,428.3 140.5,424.6 141.0,420.7 141.5,416.7 142.0,412.5 142.5,408.3 143.0,403.9 143.5,399.5 144.0,395.0 144.5,390.4 145.0,385.9 145.5,381.3 146.0,376.8 146.5,372.3 147.0,368.0 147.5,363.7 148.0,359.7 148.5,355.8 149.0,352.1 149.5,348.6 150.0,345.4 150.5,342.5 151.0,340.0 151.5,337.7 152.0,335.8 152.5,334.3 153.0,333.1 153.5,332.4 154.0,332.0 154.5,332.1 155.0,332.5 155.5,333.3 156.0,334.6 156.5,336.2 157.0,338.1 157.5,340.5 158.0,343.1 158.5,346.1 159.0,349.3 159.5,352.8 160.0,356.5 160.5,360.5 161.0,364.6 161.5,368.8 162.0,373.2 162.5,377.7 163.0,382.2 163.5,386.8 164.0,391.3 164.5,395.9 165.0,400.4 165.5,404.8 166.0,409.1 166.5,413.4 167.0,417.5 167.5,421.5 168.0,425.3 168.5,429.0 169.0,432.5 169.5,435.9 170.0,439.0 170.5,442.0 171.0,444.8 171.5,447.5 172.0,449.9 172.5,452.2 173.0,454.4 173.5,456.3 174.0,458.1 174.5,459.8 175.0,461.3 175.5,462.6 176.0,463.9 176.5,465.0 177.0,466.0 177.5,466.9 178.0,467.8 178.5,468.5 179.0,469.1 179.5,469.7 180.0,470.2 180.5,470.7 181.0,471.1 181.5,471.4 182.0,471.7 182.5,472.0 183.0,472.2 183.5,472.4 184.0,472.6 184.5,472.7 185.0,472.8 185.5,472.9 186.0,473.0 186.5,473.1 187.0,473.2 187.5,473.2 188.0,473.3 188.5,473.3 189.0,473.4 189.5,473.4 190.0,473.4 190.5,473.4 191.0,473.4 191.5,473.4 192.0,473.5 192.5,473.5 193.0,473.5 193.5,473.5 194.0,473.5 194.5,473.5 195.0,473.5 195.5,473.5 196.0,473.5 196.5,473.5 197.0,473.5 197.5,473.5 198.0,473.5 198.5,473.5 199.0,473.5 199.5,473.5 200.0,473.5 200.5,473.5 201.0,473.5 201.5,473.5 202.0,473.5 202.5,473.5 203.0,473.5 203.5,473.5 204.0,473.5 204.5,473.5 205.0,473.5 205.5,473.5 206.0,473.5 206.5,473.5 207.0,473.5 207.5,473.5 208.0,473.5 208.5,473.5 209.0,473.5 209.5,473.5 210.0,473.5 210.5,473.5 211.0,473.5 211.5,473.5 212.0,473.5 212.5,473.5 213.0,473.5 213.5,473.5 214.0,473.5 214.5,473.5 215.0,473.5 215.5,473.5 216.0,473.5 216.5,473.5 217.0,473.5 217.5,473.5 218.0,473.5 218.5,473.5 219.0,473.5 219.5,473.5 220.0,473.5 220.5,473.5 221.0,473.5 221.5,473.5 222.0,473.5 222.5,473.5 223.0,473.5 223.5,473.5 224.0,473.5 224.5,473.5 225.0,473.5 225.5,473.5 226.0,473.5 226.5,473.5 227.0,473.5 227.5,473.5 228.0,473.5 228.5,473.5 229.0,473.5 229.5,473.5 230.0,473.5 230.5,473.5 231.0,473.5 231.5,473.5 232.0,473.5 232.5,473.5 233.0,473.5 233.5,473.5 234.0,473.5 234.5,473.5 235.0,473.5 235.5,473.5 236.0,473.5 236.5,473.5 237.0,473.5 237.5,473.5 238.0,473.5 238.5,473.5 239.0,473.5 239.5,473.5 240.0,473.5 240.5,473.5 241.0,473.5 241.5,473.5 242.0,473.5 242.5,473.5 243.0,473.5 243.5,473.5 244.0,473.5 244.5,473.5 245.0,473.5 245.5,473.5 246.0,473.5 246.5,473.5 247.0,473.5 247.5,473.5 248.0,473.5 248.5,473.5 249.0,473.5 249.5,473.5 250.0,473.5 250.5,473.5 251.0,473.5 251.5,473.5 252.0,473.5 252.5,473.5 253.0,473.5 253.5,473.5 254.0,473.5 254.5,473.5 255.0,473.5 255.5,473.5 256.0,473.5 256.5,473.5 257.0,473.5 257.5,473.5 258.0,473.5 258.5,473.5 259.0,473.5 259.5,473.5 260.0,473.5 260.5,473.5 261.0,473.5 261.5,473.5 262.0,473.5" fill="none" stroke="#66e066" stroke-width="1.0" stroke-linejoin="round" /><polyline points="80.0,473.5 80.5,473.5 81.0,473.5 81.5,473.5 82.0,473.5 82.5,473.5 83.0,473.5 83.5,473.5 84.0,473.5 84.5,473.5 85.0,473.5 85.5,473.5 86.0,473.5 86.5,473.5 87.0,473.5 87.5,473.5 88.0,473.5 88.5,473.5 89.0,473.5 89.5,473.5 90.0,473.5 90.5,473.5 91.0,473.5 91.5,473.5 92.0,473.5 92.5,473.5 93.0,473.5 93.5,473.5 94.0,473.5 94.5,473.5 95.0,473.5 95.5,473.5 96.0,473.5 96.5,473.5 97.0,473.5 97.5,473.5 98.0,473.5 98.5,473.5 99.0,473.5 99.5,473.5 100.0,473.5 100.5,473.5 101.0,473.5 101.5,473.5 102.0,473.5 102.5,473.5 103.0,473.5 103.5,473.5 104.0,473.5 104.5,473.5 105.0,473.5 105.5,473.5 106.0,473.5 106.5,473.5 107.0,473.5 107.5,473.5 108.0,473.5 108.5,473.5 109.0,473.5 109.5,473.5 110.0,473.5 110.5,473.5 111.0,473.5 111.5,473.5 112.0,473.5 112.5,473.5 113.0,473.5 113.5,473.5 114.0,473.5 114.5,473.5 115.0,473.5 115.5,473.5 116.0,473.5 116.5,473.5 117.0,473.5 117.5,473.5 118.0,473.5 118.5,473.5 119.0,473.5 119.5,473.5 120.0,473.5 120.5,473.5 121.0,473.5 121.5,473.5 122.0,473.5 122.5,473.5 123.0,473.5 123.5,473.5 124.0,473.5 124.5,473.5 125.0,473.5 125.5,473.5 126.0,473.5 126.5,473.5 127.0,473.5 127.5,473.5 128.0,473.5 128.5,473.5 129.0,473.5 129.5,473.5 130.0,473.5 130.5,473.5 131.0,473.5 131.5,473.5 132.0,473.5 132.5,473.5 133.0,473.5 133.5,473.5 134.0,473.5 134.5,473.5 135.0,473.5 135.5,473.5 136.0,473.5 136.5,473.5 137.0,473.5 137.5,473.5 138.0,473.5 138.5,473.5 139.0,473.5 139.5,473.5 140.0,473.5 140.5,473.5 141.0,473.5 141.5,473.5 142.0,473.4 142.5,473.4 143.0,473.4 143.5,473.4 144.0,473.4 144.5,473.3 145.0,473.3 145.5,473.3 146.0,473.2 146.5,473.2 147.0,473.1 147.5,473.1 148.0,473.0 148.5,472.9 149.0,472.8 149.5,472.6 150.0,472.5 150.5,472.3 151.0,472.1 151.5,471.9 152.0,471.7 152.5,471.4 153.0,471.1 153.5,470.7 154.0,470.3 154.5,469.8 155.0,469.3 155.5,468.8 156.0,468.2 156.5,467.5 157.0,466.7 157.5,465.9 158.0,465.0 158.5,464.0 159.0,462.9 159.5,461.8 160.0,460.5 160.5,459.2 161.0,457.8 161.5,456.2 162.0,454.6 162.5,452.9 163.0,451.1 163.5,449.2 164.0,447.2 164.5,445.2 165.0,443.0 165.5,440.8 166.0,438.6 166.5,436.3 167.0,433.9 167.5,431.5 168.0,429.1 168.5,426.7 169.0,424.3 169.5,421.9 170.0,419.6 170.5,417.3 171.0,415.0 171.5,412.9 172.0,410.9 172.5,408.9 173.0,407.1 173.5,405.5 174.0,404.0 174.5,402.7 175.0,401.5 175.5,400.5 176.0,399.8 176.5,399.2 177.0,398.9 177.5,398.7 178.0,398.8 178.5,399.0 179.0,399.5 179.5,400.2 180.0,401.1 180.5,402.2 181.0,403.4 181.5,404.9 182.0,406.5 182.5,408.2 183.0,410.1 183.5,412.1 184.0,414.2 184.5,416.4 185.0,418.6 185.5,421.0 186.0,423.3 186.5,425.7 187.0,428.1 187.5,430.5 188.0,432.9 188.5,435.3 189.0,437.6 189.5,439.9 190.0,442.2 190.5,444.3 191.0,446.4 191.5,448.4 192.0,450.4 192.5,452.2 193.0,454.0 193.5,455.6 194.0,457.2 194.5,458.6 195.0,460.0 195.5,461.3 196.0,462.5 196.5,463.6 197.0,464.6 197.5,465.5 198.0,466.4 198.5,467.2 199.0,467.9 199.5,468.5 200.0,469.1 200.5,469.7 201.0,470.1 201.5,470.5 202.0,470.9 202.5,471.3 203.0,471.6 203.5,471.8 204.0,472.1 204.5,472.3 205.0,472.4 205.5,472.6 206.0,472.7 206.5,472.8 207.0,472.9 207.5,473.0 208.0,473.1 208.5,473.2 209.0,473.2 209.5,473.3 210.0,473.3 210.5,473.3 211.0,473.4 211.5,473.4 212.0,473.4 212.5,473.4 213.0,473.4 213.5,473.4 214.0,473.5 214.5,473.5 215.0,473.5 215.5,473.5 216.0,473.5 216.5,473.5 217.0,473.5 217.5,473.5 218.0,473.5 218.5,473.5 219.0,473.5 219.5,473.5 220.0,473.5 220.5,473.5 221.0,473.5 221.5,473.5 222.0,473.5 222.5,473.5 223.0,473.5 223.5,473.5 224.0,473.5 224.5,473.5 225.0,473.5 225.5,473.5 226.0,473.5 226.5,473.5 227.0,473.5 227.5,473.5 228.0,473.5 228.5,473.5 229.0,473.5 229.5,473.5 230.0,473.5 230.5,473.5 231.0,473.5 231.5,473.5 232.0,473.5 232.5,473.5 233.0,473.5 233.5,473.5 234.0,473.5 234.5,473.5 235.0,473.5 235.5,473.5 236.0,473.5 236.5,473.5 237.0,473.5 237.5,473.5 238.0,473.5 238.5,473.5 239.0,473.5 239.5,473.5 240.0,473.5 240.5,473.5 241.0,473.5 241.5,473.5 242.0,473.5 242.5,473.5 243.0,473.5 243.5,473.5 244.0,473.5 244.5,473.5 245.0,473.5 245.5,473.5 246.0,473.5 246.5,473.5 247.0,473.5 247.5,473.5 248.0,473.5 248.5,473.5 249.0,473.5 249.5,473.5 250.0,473.5 250.5,473.5 251.0,473.5 251.5,473.5 252.0,473.5 252.5,473.5 253.0,473.5 253.5,473.5 254.0,473.5 254.5,473.5 255.0,473.5 255.5,473.5 256.0,473.5 256.5,473.5 257.0,473.5 257.5,473.5 258.0,473.5 258.5,473.5 259.0,473.5 259.5,473.5 260.0,473.5 260.5,473.5 261.0,473.5 261.5,473.5 262.0,473.5" fill="none" stroke="#7070f2" stroke-width="1.0" stroke-linejoin="round" /><polyline points="80.0,473.5 80.5,473.5 81.0,473.5 81.5,473.5 82.0,473.5 82.5,473.5 83.0,473.5 83.5,473.5 84.0,473.5 84.5,473.5 85.0,473.5 85.5,473.5 86.0,473.5 86.5,473.5 87.0,473.5 87.5,473.5 88.0,473.5 88.5,473.5 89.0,473.5 89.5,473.5 90.0,473.5 90.5,473.5 91.0,473.5 91.5,473.5 92.0,473.5 92.5,473.5 93.0,473.5 93.5,473.5 94.0,473.5 94.5,473.5 95.0,473.5 95.5,473.5 96.0,473.5 96.5,473.5 97.0,473.5 97.5,473.5 98.0,473.5 98.5,473.5 99.0,473.5 99.5,473.5 100.0,473.5 100.5,473.4 101.0,473.4 101.5,473.4 102.0,473.4 102.5,473.4 103.0,473.3 103.5,473.3 104.0,473.3 104.5,473.2 105.0,473.2 105.5,473.1 106.0,473.0 106.5,472.9 107.0,472.8 107.5,472.7 108.0,472.5 108.5,472.4 109.0,472.2 109.5,471.9 110.0,471.7 110.5,471.4 111.0,471.1 111.5,470.7 112.0,470.3 112.5,469.8 113.0,469.2 113.5,468.6 114.0,468.0 114.5,467.2 115.0,466.4 115.5,465.5 116.0,464.5 116.5,463.4 117.0,462.2 117.5,460.9 118.0,459.4 118.5,457.9 119.0,456.2 119.5,454.5 120.0,452.6 120.5,450.5 121.0,448.4 121.5,446.1 122.0,443.7 122.5,441.1 123.0,438.5 123.5,435.7 124.0,432.8 124.5,429.9 125.0,426.8 125.5,423.6 126.0,420.4 126.5,417.1 127.0,413.8 127.5,410.4 128.0,407.0 128.5,403.6 129.0,400.2 129.5,396.8 130.0,393.4 130.5,390.1 131.0,386.8 131.5,383.6 132.0,380.5 132.5,377.5 133.0,374.5 133.5,371.6 134.0,368.9 134.5,366.2 135.0,363.7 135.5,361.2 136.0,358.9 136.5,356.6 137.0,354.5 137.5,352.4 138.0,350.5 138.5,348.6 139.0,346.7 139.5,344.9 140.0,343.2 140.5,341.5 141.0,339.8 141.5,338.2 142.0,336.5 142.5,334.9 143.0,333.3 143.5,331.7 144.0,330.1 144.5,328.5 145.0,326.9 145.5,325.3 146.0,323.8 146.5,322.3 147.0,320.9 147.5,319.5 148.0,318.2 148.5,317.0 149.0,315.8" fill="none" stroke="#66eef4" stroke-width="1.0" stroke-linejoin="round" /><polyline points="155.0,316.6 155.5,318.1 156.0,319.8 156.5,321.8 157.0,323.9 157.5,326.3 158.0,328.8 158.5,331.5 159.0,334.3 159.5,337.2 160.0,340.1 160.5,343.2 161.0,346.3 161.5,349.4 162.0,352.4 162.5,355.4 163.0,358.4 163.5,361.3 164.0,364.0 164.5,366.7 165.0,369.2 165.5,371.5 166.0,373.7 166.5,375.7 167.0,377.5 167.5,379.2 168.0,380.7 168.5,382.0 169.0,383.1 169.5,384.1 170.0,385.0 170.5,385.7 171.0,386.3 171.5,386.8 172.0,387.3 172.5,387.6 173.0,388.0 173.5,388.3 174.0,388.6 174.5,388.9 175.0,389.3 175.5,389.7 176.0,390.2 176.5,390.7 177.0,391.4 177.5,392.1 178.0,393.0 178.5,394.0 179.0,395.2 179.5,396.4 180.0,397.8 180.5,399.4 181.0,401.0 181.5,402.8 182.0,404.7 182.5,406.7 183.0,408.8 183.5,411.0 184.0,413.2 184.5,415.6 185.0,418.0 185.5,420.4 186.0,422.9 186.5,425.3 187.0,427.8 187.5,430.3 188.0,432.7 188.5,435.1 189.0,437.5 189.5,439.8 190.0,442.1 190.5,444.2 191.0,446.4 191.5,448.4 192.0,450.3 192.5,452.2 193.0,453.9 193.5,455.6 194.0,457.2 194.5,458.6 195.0,460.0 195.5,461.3 196.0,462.5 196.5,463.6 197.0,464.6 197.5,465.5 198.0,466.4 198.5,467.2 199.0,467.9 199.5,468.5 200.0,469.1 200.5,469.7 201.0,470.1 201.5,470.5 202.0,470.9 202.5,471.3 203.0,471.6 203.5,471.8 204.0,472.1 204.5,472.3 205.0,472.4 205.5,472.6 206.0,472.7 206.5,472.8 207.0,472.9 207.5,473.0 208.0,473.1 208.5,473.2 209.0,473.2 209.5,473.3 210.0,473.3 210.5,473.3 211.0,473.4 211.5,473.4 212.0,473.4 212.5,473.4 213.0,473.4 213.5,473.4 214.0,473.5 214.5,473.5 215.0,473.5 215.5,473.5 216.0,473.5 216.5,473.5 217.0,473.5 217.5,473.5 218.0,473.5 218.5,473.5 219.0,473.5 219.5,473.5 220.0,473.5 220.5,473.5 221.0,473.5 221.5,473.5 222.0,473.5 222.5,473.5 223.0,473.5 223.5,473.5 224.0,473.5 224.5,473.5 225.0,473.5 225.5,473.5 226.0,473.5 226.5,473.5 227.0,473.5 227.5,473.5 228.0,473.5 228.5,473.5 229.0,473.5 229.5,473.5 230.0,473.5 230.5,473.5 231.0,473.5 231.5,473.5 232.0,473.5 232.5,473.5 233.0,473.5 233.5,473.5 234.0,473.5 234.5,473.5 235.0,473.5 235.5,473.5 236.0,473.5 236.5,473.5 237.0,473.5 237.5,473.5 238.0,473.5 238.5,473.5 239.0,473.5 239.5,473.5 240.0,473.5 240.5,473.5 241.0,473.5 241.5,473.5 242.0,473.5 242.5,473.5 243.0,473.5 243.5,473.5 244.0,473.5 244.5,473.5 245.0,473.5 245.5,473.5 246.0,473.5 246.5,473.5 247.0,473.5 247.5,473.5 248.0,473.5 248.5,473.5 249.0,473.5 249.5,473.5 250.0,473.5 250.5,473.5 251.0,473.5 251.5,473.5 252.0,473.5 252.5,473.5 253.0,473.5 253.5,473.5 254.0,473.5 254.5,473.5 255.0,473.5 255.5,473.5 256.0,473.5 256.5,473.5 257.0,473.5 257.5,473.5 258.0,473.5 258.5,473.5 259.0,473.5 259.5,473.5 260.0,473.5 260.5,473.5 261.0,473.5 261.5,473.5 262.0,473.5" fill="none" stroke="#66eef4" stroke-width="1.0" stroke-linejoin="round" /><polyline points="80.8,484.2 90.0,479.2 100.0,476.7 108.3,473.3 114.2,468.3 118.7,463.0 121.7,453.3 125.0,438.3 128.3,421.7 131.7,405.0 134.5,390.0 136.4,380.5 138.9,360.9 141.3,352.8 144.6,338.1 147.0,334.8 154.3,331.6 160.0,338.9 166.6,352.8 169.8,364.2 173.1,377.2 175.8,390.0 177.6,398.5 180.0,410.0 183.3,426.7 187.8,444.4 191.0,453.0 194.4,461.0 199.0,465.5 204.4,467.8 215.4,468.5 224.0,470.2 235.5,464.9 244.1,463.0 252.7,462.6 262.3,451.5" fill="none" stroke="#606060" stroke-width="1.0" stroke-linejoin="round" /><rect x="136.3" y="312.8" width="31.7" height="8.9" fill="#fff"/><text x="137.3" y="319.9" font-size="8.5" textLength="29.7" lengthAdjust="spacingAndGlyphs" stroke="#111" stroke-width="0.35">Ta 4f 7/2</text><rect x="140.6" y="321.1" width="23.8" height="9.5" fill="#fff"/><text x="141.6" y="327.8" font-size="6.4" textLength="21.8" lengthAdjust="spacingAndGlyphs" stroke="#111" stroke-width="0.35">26.11 eV</text><rect x="114.3" y="360.7" width="31.1" height="8.9" fill="#fff"/><text x="115.3" y="367.8" font-size="8.5" textLength="29.1" lengthAdjust="spacingAndGlyphs" stroke="#111" stroke-width="0.35">Ta 4f 7/2</text><rect x="118.9" y="370.1" width="24.8" height="9.5" fill="#fff"/><text x="119.9" y="376.8" font-size="6.4" textLength="22.8" lengthAdjust="spacingAndGlyphs" stroke="#111" stroke-width="0.35">24.67 eV</text><rect x="163.6" y="379.2" width="31.4" height="8.9" fill="#fff"/><text x="164.6" y="386.4" font-size="8.5" textLength="29.4" lengthAdjust="spacingAndGlyphs" stroke="#111" stroke-width="0.35">Ta 4f 5/2</text><rect x="167.6" y="387.5" width="24.4" height="9.5" fill="#fff"/><text x="168.6" y="394.2" font-size="6.4" textLength="22.4" lengthAdjust="spacingAndGlyphs" stroke="#111" stroke-width="0.35">28.01 eV</text><g transform="translate(18.5,424.4) rotate(-90)"><text x="0" y="0" font-size="9.8" textLength="41.2" lengthAdjust="spacingAndGlyphs" class="s" fill="#000">Counts/ S</text></g><text x="128.3" y="525.8" font-size="9.5" textLength="83.9" lengthAdjust="spacingAndGlyphs" class="s" fill="#000">Binding energy (eV)</text><text x="7.5" y="323.9" font-size="13">b</text></g>
<g class="c"><line x1="338.6" y1="317.9" x2="338.6" y2="507.0" stroke="#1a1a1a" stroke-width="1.2"/><line x1="335.3" y1="506.4" x2="571" y2="506.4" stroke="#1a1a1a" stroke-width="1.2"/><line x1="337.0" y1="318.09999999999997" x2="338.6" y2="319.0" stroke="#1a1a1a" stroke-width="0.9"/><line x1="571" y1="506.4" x2="571.3" y2="507.9" stroke="#1a1a1a" stroke-width="0.9"/><line x1="361.5" y1="506.4" x2="361.5" y2="509.59999999999997" stroke="#1a1a1a" stroke-width="1"/><text x="361.7" y="518.9" font-size="8.1" text-anchor="middle" fill="#111" class="s">380</text><line x1="408.5" y1="506.4" x2="408.5" y2="509.59999999999997" stroke="#1a1a1a" stroke-width="1"/><text x="408.18" y="518.9" font-size="8.1" text-anchor="middle" fill="#111" class="s">390</text><line x1="454.5" y1="506.4" x2="454.5" y2="509.59999999999997" stroke="#1a1a1a" stroke-width="1"/><text x="454.65" y="518.9" font-size="8.1" text-anchor="middle" fill="#111" class="s">400</text><line x1="501.5" y1="506.4" x2="501.5" y2="509.59999999999997" stroke="#1a1a1a" stroke-width="1"/><text x="501.12" y="518.9" font-size="8.1" text-anchor="middle" fill="#111" class="s">410</text><line x1="547.5" y1="506.4" x2="547.5" y2="509.59999999999997" stroke="#1a1a1a" stroke-width="1"/><text x="547.6" y="518.9" font-size="8.1" text-anchor="middle" fill="#111" class="s">420</text><line x1="384.5" y1="506.4" x2="384.5" y2="508.2" stroke="#1a1a1a" stroke-width="1"/><line x1="431.5" y1="506.4" x2="431.5" y2="508.2" stroke="#1a1a1a" stroke-width="1"/><line x1="477.5" y1="506.4" x2="477.5" y2="508.2" stroke="#1a1a1a" stroke-width="1"/><line x1="524.5" y1="506.4" x2="524.5" y2="508.2" stroke="#1a1a1a" stroke-width="1"/><line x1="570.5" y1="506.4" x2="570.5" y2="508.2" stroke="#1a1a1a" stroke-width="1"/><line x1="335.0" y1="506.5" x2="338.6" y2="506.5" stroke="#1a1a1a" stroke-width="1"/><text x="332.3" y="509.0" font-size="8.1" text-anchor="end" fill="#111" class="s">48000</text><line x1="335.0" y1="486.5" x2="338.6" y2="486.5" stroke="#1a1a1a" stroke-width="1"/><text x="332.3" y="489.19" font-size="8.1" text-anchor="end" fill="#111" class="s">50000</text><line x1="335.0" y1="466.5" x2="338.6" y2="466.5" stroke="#1a1a1a" stroke-width="1"/><text x="332.3" y="469.38" font-size="8.1" text-anchor="end" fill="#111" class="s">52000</text><line x1="335.0" y1="446.5" x2="338.6" y2="446.5" stroke="#1a1a1a" stroke-width="1"/><text x="332.3" y="449.56" font-size="8.1" text-anchor="end" fill="#111" class="s">54000</text><line x1="335.0" y1="427.5" x2="338.6" y2="427.5" stroke="#1a1a1a" stroke-width="1"/><text x="332.3" y="429.75" font-size="8.1" text-anchor="end" fill="#111" class="s">56000</text><line x1="335.0" y1="407.5" x2="338.6" y2="407.5" stroke="#1a1a1a" stroke-width="1"/><text x="332.3" y="409.94" font-size="8.1" text-anchor="end" fill="#111" class="s">58000</text><line x1="335.0" y1="387.5" x2="338.6" y2="387.5" stroke="#1a1a1a" stroke-width="1"/><text x="332.3" y="390.13" font-size="8.1" text-anchor="end" fill="#111" class="s">60000</text><line x1="335.0" y1="367.5" x2="338.6" y2="367.5" stroke="#1a1a1a" stroke-width="1"/><text x="332.3" y="370.32000000000005" font-size="8.1" text-anchor="end" fill="#111" class="s">62000</text><line x1="335.0" y1="347.5" x2="338.6" y2="347.5" stroke="#1a1a1a" stroke-width="1"/><text x="332.3" y="350.5" font-size="8.1" text-anchor="end" fill="#111" class="s">64000</text><line x1="335.0" y1="328.5" x2="338.6" y2="328.5" stroke="#1a1a1a" stroke-width="1"/><text x="332.3" y="330.69" font-size="8.1" text-anchor="end" fill="#111" class="s">66000</text><line x1="336.70000000000005" y1="496.5" x2="338.6" y2="496.5" stroke="#1a1a1a" stroke-width="1"/><line x1="336.70000000000005" y1="476.5" x2="338.6" y2="476.5" stroke="#1a1a1a" stroke-width="1"/><line x1="336.70000000000005" y1="456.5" x2="338.6" y2="456.5" stroke="#1a1a1a" stroke-width="1"/><line x1="336.70000000000005" y1="437.5" x2="338.6" y2="437.5" stroke="#1a1a1a" stroke-width="1"/><line x1="336.70000000000005" y1="417.5" x2="338.6" y2="417.5" stroke="#1a1a1a" stroke-width="1"/><line x1="336.70000000000005" y1="397.5" x2="338.6" y2="397.5" stroke="#1a1a1a" stroke-width="1"/><line x1="336.70000000000005" y1="377.5" x2="338.6" y2="377.5" stroke="#1a1a1a" stroke-width="1"/><line x1="336.70000000000005" y1="357.5" x2="338.6" y2="357.5" stroke="#1a1a1a" stroke-width="1"/><line x1="336.70000000000005" y1="338.5" x2="338.6" y2="338.5" stroke="#1a1a1a" stroke-width="1"/><line x1="336.70000000000005" y1="318.5" x2="338.6" y2="318.5" stroke="#1a1a1a" stroke-width="1"/><polyline points="361.7,468.5 362.2,468.5 362.7,468.5 363.2,468.5 363.7,468.5 364.2,468.5 364.7,468.5 365.2,468.5 365.7,468.5 366.2,468.5 366.7,468.5 367.2,468.5 367.7,468.5 368.2,468.5 368.7,468.5 369.2,468.5 369.7,468.5 370.2,468.5 370.7,468.5 371.2,468.5 371.7,468.5 372.2,468.5 372.7,468.5 373.2,468.5 373.7,468.5 374.2,468.5 374.7,468.5 375.2,468.5 375.7,468.5 376.2,468.5 376.7,468.5 377.2,468.5 377.7,468.5 378.2,468.5 378.7,468.5 379.2,468.5 379.7,468.5 380.2,468.5 380.7,468.5 381.2,468.5 381.7,468.5 382.2,468.5 382.7,468.5 383.2,468.5 383.7,468.5 384.2,468.5 384.7,468.5 385.2,468.5 385.7,468.5 386.2,468.5 386.7,468.5 387.2,468.5 387.7,468.5 388.2,468.5 388.7,468.5 389.2,468.5 389.7,468.5 390.2,468.5 390.7,468.5 391.2,468.5 391.7,468.5 392.2,468.5 392.7,468.5 393.2,468.5 393.7,468.5 394.2,468.5 394.7,468.5 395.2,468.5 395.7,468.5 396.2,468.5 396.7,468.5 397.2,468.5 397.7,468.5 398.2,468.5 398.7,468.5 399.2,468.5 399.7,468.5 400.2,468.5 400.7,468.5 401.2,468.5 401.7,468.5 402.2,468.5 402.7,468.5 403.2,468.5 403.7,468.5 404.2,468.5 404.7,468.5 405.2,468.5 405.7,468.4 406.2,468.4 406.7,468.4 407.2,468.4 407.7,468.4 408.2,468.4 408.7,468.4 409.2,468.4 409.7,468.3 410.2,468.3 410.7,468.3 411.2,468.2 411.7,468.2 412.2,468.2 412.7,468.1 413.2,468.1 413.7,468.0 414.2,467.9 414.7,467.8 415.2,467.8 415.7,467.7 416.2,467.6 416.7,467.4 417.2,467.3 417.7,467.2 418.2,467.0 418.7,466.8 419.2,466.7 419.7,466.5 420.2,466.2 420.7,466.0 421.2,465.7 421.7,465.4 422.2,465.1 422.7,464.8 423.2,464.4 423.7,464.0 424.2,463.6 424.7,463.2 425.2,462.7 425.7,462.2 426.2,461.7 426.7,461.2 427.2,460.6 427.7,460.0 428.2,459.3 428.7,458.6 429.2,457.9 429.7,457.2 430.2,456.5 430.7,455.7 431.2,454.9 431.7,454.0 432.2,453.2 432.7,452.3 433.2,451.4 433.7,450.5 434.2,449.6 434.7,448.7 435.2,447.8 435.7,446.9 436.2,446.0 436.7,445.1 437.2,444.2 437.7,443.3 438.2,442.5 438.7,441.6 439.2,440.8 439.7,440.0 440.2,439.3 440.7,438.6 441.2,438.0 441.7,437.3 442.2,436.8 442.7,436.3 443.2,435.8 443.7,435.4 444.2,435.1 444.7,434.8 445.2,434.6 445.7,434.5 446.2,434.4 446.7,434.4 447.2,434.5 447.7,434.6 448.2,434.8 448.7,435.0 449.2,435.4 449.7,435.7 450.2,436.2 450.7,436.7 451.2,437.2 451.7,437.8 452.2,438.5 452.7,439.2 453.2,439.9 453.7,440.7 454.2,441.5 454.7,442.3 455.2,443.1 455.7,444.0 456.2,444.9 456.7,445.8 457.2,446.7 457.7,447.6 458.2,448.5 458.7,449.5 459.2,450.4 459.7,451.3 460.2,452.1 460.7,453.0 461.2,453.9 461.7,454.7 462.2,455.5 462.7,456.3 463.2,457.1 463.7,457.8 464.2,458.5 464.7,459.2 465.2,459.8 465.7,460.4 466.2,461.0 466.7,461.6 467.2,462.1 467.7,462.6 468.2,463.1 468.7,463.5 469.2,464.0 469.7,464.4 470.2,464.7 470.7,465.1 471.2,465.4 471.7,465.7 472.2,465.9 472.7,466.2 473.2,466.4 473.7,466.6 474.2,466.8 474.7,467.0 475.2,467.1 475.7,467.3 476.2,467.4 476.7,467.5 477.2,467.6 477.7,467.7 478.2,467.8 478.7,467.9 479.2,468.0 479.7,468.0 480.2,468.1 480.7,468.2 481.2,468.2 481.7,468.2 482.2,468.3 482.7,468.3 483.2,468.3 483.7,468.3 484.2,468.4 484.7,468.4 485.2,468.4 485.7,468.4 486.2,468.4 486.7,468.4 487.2,468.4 487.7,468.5 488.2,468.5 488.7,468.5 489.2,468.5 489.7,468.5 490.2,468.5 490.7,468.5 491.2,468.5 491.7,468.5 492.2,468.5 492.7,468.5 493.2,468.5 493.7,468.5 494.2,468.5 494.7,468.5 495.2,468.5 495.7,468.5 496.2,468.5 496.7,468.5 497.2,468.5 497.7,468.5 498.2,468.5 498.7,468.5 499.2,468.5 499.7,468.5 500.2,468.5 500.7,468.5 501.2,468.5 501.7,468.5 502.2,468.5 502.7,468.5 503.2,468.5 503.7,468.5 504.2,468.5 504.7,468.5 505.2,468.5 505.7,468.5 506.2,468.5 506.7,468.5 507.2,468.5 507.7,468.5 508.2,468.5 508.7,468.5 509.2,468.5 509.7,468.5 510.2,468.5 510.7,468.5 511.2,468.5 511.7,468.5 512.2,468.5 512.7,468.5 513.2,468.5 513.7,468.5 514.2,468.5 514.7,468.5 515.2,468.5 515.7,468.5 516.2,468.5 516.7,468.5 517.2,468.5 517.7,468.5 518.2,468.5 518.7,468.5 519.2,468.5 519.7,468.5 520.2,468.5 520.7,468.5 521.2,468.5 521.7,468.5 522.2,468.5 522.7,468.5 523.2,468.5 523.7,468.5 524.2,468.5 524.7,468.5 525.2,468.5 525.7,468.5 526.2,468.5 526.7,468.5 527.2,468.5 527.7,468.5 528.2,468.5 528.7,468.5 529.2,468.5 529.7,468.5 530.2,468.5 530.7,468.5 531.2,468.5 531.7,468.5 532.2,468.5 532.7,468.5 533.2,468.5 533.7,468.5 534.2,468.5 534.7,468.5 535.2,468.5 535.7,468.5 536.2,468.5 536.7,468.5 537.2,468.5 537.7,468.5 538.2,468.5 538.7,468.5 539.2,468.5 539.7,468.5 540.2,468.5 540.7,468.5 541.2,468.5 541.7,468.5 542.2,468.5 542.7,468.5 543.2,468.5 543.7,468.5 544.2,468.5 544.7,468.5 545.2,468.5 545.7,468.5 546.2,468.5 546.7,468.5 547.2,468.5 547.7,468.5" fill="none" stroke="#f27272" stroke-width="1.0" stroke-linejoin="round" /><polyline points="361.7,468.5 362.2,468.5 362.7,468.5 363.2,468.5 363.7,468.5 364.2,468.5 364.7,468.5 365.2,468.5 365.7,468.5 366.2,468.5 366.7,468.5 367.2,468.5 367.7,468.5 368.2,468.5 368.7,468.5 369.2,468.5 369.7,468.5 370.2,468.5 370.7,468.5 371.2,468.5 371.7,468.5 372.2,468.5 372.7,468.5 373.2,468.5 373.7,468.5 374.2,468.5 374.7,468.5 375.2,468.5 375.7,468.5 376.2,468.5 376.7,468.5 377.2,468.5 377.7,468.5 378.2,468.5 378.7,468.5 379.2,468.5 379.7,468.5 380.2,468.5 380.7,468.5 381.2,468.5 381.7,468.5 382.2,468.5 382.7,468.5 383.2,468.5 383.7,468.5 384.2,468.5 384.7,468.5 385.2,468.5 385.7,468.5 386.2,468.5 386.7,468.5 387.2,468.5 387.7,468.5 388.2,468.5 388.7,468.5 389.2,468.5 389.7,468.5 390.2,468.5 390.7,468.5 391.2,468.5 391.7,468.5 392.2,468.5 392.7,468.5 393.2,468.5 393.7,468.5 394.2,468.5 394.7,468.5 395.2,468.5 395.7,468.5 396.2,468.5 396.7,468.5 397.2,468.5 397.7,468.5 398.2,468.5 398.7,468.5 399.2,468.5 399.7,468.5 400.2,468.5 400.7,468.5 401.2,468.5 401.7,468.5 402.2,468.5 402.7,468.5 403.2,468.5 403.7,468.5 404.2,468.5 404.7,468.5 405.2,468.5 405.7,468.5 406.2,468.5 406.7,468.5 407.2,468.5 407.7,468.5 408.2,468.5 408.7,468.5 409.2,468.5 409.7,468.5 410.2,468.5 410.7,468.5 411.2,468.5 411.7,468.5 412.2,468.5 412.7,468.5 413.2,468.5 413.7,468.5 414.2,468.5 414.7,468.4 415.2,468.4 415.7,468.4 416.2,468.4 416.7,468.4 417.2,468.4 417.7,468.4 418.2,468.3 418.7,468.3 419.2,468.3 419.7,468.2 420.2,468.2 420.7,468.1 421.2,468.1 421.7,468.0 422.2,467.9 422.7,467.9 423.2,467.8 423.7,467.7 424.2,467.6 424.7,467.4 425.2,467.3 425.7,467.1 426.2,466.9 426.7,466.7 427.2,466.5 427.7,466.3 428.2,466.0 428.7,465.7 429.2,465.4 429.7,465.0 430.2,464.6 430.7,464.2 431.2,463.7 431.7,463.2 432.2,462.6 432.7,462.0 433.2,461.4 433.7,460.7 434.2,459.9 434.7,459.1 435.2,458.2 435.7,457.3 436.2,456.3 436.7,455.2 437.2,454.1 437.7,452.9 438.2,451.6 438.7,450.3 439.2,448.9 439.7,447.4 440.2,445.9 440.7,444.3 441.2,442.6 441.7,440.9 442.2,439.1 442.7,437.3 443.2,435.4 443.7,433.5 444.2,431.5 444.7,429.5 445.2,427.4 445.7,425.3 446.2,423.2 446.7,421.1 447.2,419.0 447.7,416.9 448.2,414.8 448.7,412.7 449.2,410.7 449.7,408.7 450.2,406.7 450.7,404.8 451.2,402.9 451.7,401.2 452.2,399.5 452.7,397.9 453.2,396.4 453.7,395.0 454.2,393.7 454.7,392.6 455.2,391.5 455.7,390.6 456.2,389.9 456.7,389.3 457.2,388.8 457.7,388.5 458.2,388.3 458.7,388.3 459.2,388.4 459.7,388.7 460.2,389.2 460.7,389.8 461.2,390.5 461.7,391.3 462.2,392.3 462.7,393.5 463.2,394.7 463.7,396.1 464.2,397.6 464.7,399.1 465.2,400.8 465.7,402.6 466.2,404.4 466.7,406.3 467.2,408.3 467.7,410.3 468.2,412.3 468.7,414.4 469.2,416.5 469.7,418.6 470.2,420.7 470.7,422.8 471.2,424.9 471.7,427.0 472.2,429.1 472.7,431.1 473.2,433.1 473.7,435.0 474.2,436.9 474.7,438.8 475.2,440.6 475.7,442.3 476.2,444.0 476.7,445.6 477.2,447.1 477.7,448.6 478.2,450.0 478.7,451.4 479.2,452.6 479.7,453.8 480.2,455.0 480.7,456.1 481.2,457.1 481.7,458.0 482.2,458.9 482.7,459.7 483.2,460.5 483.7,461.2 484.2,461.9 484.7,462.5 485.2,463.1 485.7,463.6 486.2,464.1 486.7,464.5 487.2,464.9 487.7,465.3 488.2,465.6 488.7,465.9 489.2,466.2 489.7,466.5 490.2,466.7 490.7,466.9 491.2,467.1 491.7,467.3 492.2,467.4 492.7,467.5 493.2,467.7 493.7,467.8 494.2,467.9 494.7,467.9 495.2,468.0 495.7,468.1 496.2,468.1 496.7,468.2 497.2,468.2 497.7,468.3 498.2,468.3 498.7,468.3 499.2,468.3 499.7,468.4 500.2,468.4 500.7,468.4 501.2,468.4 501.7,468.4 502.2,468.4 502.7,468.5 503.2,468.5 503.7,468.5 504.2,468.5 504.7,468.5 505.2,468.5 505.7,468.5 506.2,468.5 506.7,468.5 507.2,468.5 507.7,468.5 508.2,468.5 508.7,468.5 509.2,468.5 509.7,468.5 510.2,468.5 510.7,468.5 511.2,468.5 511.7,468.5 512.2,468.5 512.7,468.5 513.2,468.5 513.7,468.5 514.2,468.5 514.7,468.5 515.2,468.5 515.7,468.5 516.2,468.5 516.7,468.5 517.2,468.5 517.7,468.5 518.2,468.5 518.7,468.5 519.2,468.5 519.7,468.5 520.2,468.5 520.7,468.5 521.2,468.5 521.7,468.5 522.2,468.5 522.7,468.5 523.2,468.5 523.7,468.5 524.2,468.5 524.7,468.5 525.2,468.5 525.7,468.5 526.2,468.5 526.7,468.5 527.2,468.5 527.7,468.5 528.2,468.5 528.7,468.5 529.2,468.5 529.7,468.5 530.2,468.5 530.7,468.5 531.2,468.5 531.7,468.5 532.2,468.5 532.7,468.5 533.2,468.5 533.7,468.5 534.2,468.5 534.7,468.5 535.2,468.5 535.7,468.5 536.2,468.5 536.7,468.5 537.2,468.5 537.7,468.5 538.2,468.5 538.7,468.5 539.2,468.5 539.7,468.5 540.2,468.5 540.7,468.5 541.2,468.5 541.7,468.5 542.2,468.5 542.7,468.5 543.2,468.5 543.7,468.5 544.2,468.5 544.7,468.5 545.2,468.5 545.7,468.5 546.2,468.5 546.7,468.5 547.2,468.5 547.7,468.5" fill="none" stroke="#66e066" stroke-width="1.0" stroke-linejoin="round" /><polyline points="361.7,468.5 362.2,468.5 362.7,468.5 363.2,468.5 363.7,468.5 364.2,468.5 364.7,468.5 365.2,468.5 365.7,468.5 366.2,468.5 366.7,468.5 367.2,468.5 367.7,468.5 368.2,468.5 368.7,468.5 369.2,468.5 369.7,468.5 370.2,468.5 370.7,468.5 371.2,468.5 371.7,468.5 372.2,468.5 372.7,468.5 373.2,468.5 373.7,468.5 374.2,468.5 374.7,468.5 375.2,468.5 375.7,468.5 376.2,468.5 376.7,468.5 377.2,468.5 377.7,468.5 378.2,468.5 378.7,468.5 379.2,468.5 379.7,468.5 380.2,468.5 380.7,468.5 381.2,468.5 381.7,468.5 382.2,468.5 382.7,468.5 383.2,468.5 383.7,468.5 384.2,468.5 384.7,468.5 385.2,468.5 385.7,468.5 386.2,468.5 386.7,468.5 387.2,468.5 387.7,468.5 388.2,468.5 388.7,468.5 389.2,468.5 389.7,468.5 390.2,468.5 390.7,468.5 391.2,468.5 391.7,468.5 392.2,468.5 392.7,468.5 393.2,468.5 393.7,468.5 394.2,468.5 394.7,468.5 395.2,468.5 395.7,468.5 396.2,468.5 396.7,468.5 397.2,468.5 397.7,468.5 398.2,468.5 398.7,468.5 399.2,468.5 399.7,468.5 400.2,468.5 400.7,468.5 401.2,468.5 401.7,468.5 402.2,468.5 402.7,468.5 403.2,468.5 403.7,468.5 404.2,468.5 404.7,468.5 405.2,468.5 405.7,468.5 406.2,468.5 406.7,468.5 407.2,468.5 407.7,468.5 408.2,468.5 408.7,468.5 409.2,468.5 409.7,468.5 410.2,468.5 410.7,468.5 411.2,468.5 411.7,468.5 412.2,468.5 412.7,468.5 413.2,468.5 413.7,468.5 414.2,468.5 414.7,468.5 415.2,468.5 415.7,468.5 416.2,468.5 416.7,468.5 417.2,468.5 417.7,468.5 418.2,468.5 418.7,468.5 419.2,468.5 419.7,468.5 420.2,468.5 420.7,468.5 421.2,468.5 421.7,468.5 422.2,468.5 422.7,468.5 423.2,468.5 423.7,468.5 424.2,468.5 424.7,468.5 425.2,468.5 425.7,468.5 426.2,468.5 426.7,468.5 427.2,468.4 427.7,468.4 428.2,468.4 428.7,468.4 429.2,468.4 429.7,468.4 430.2,468.3 430.7,468.3 431.2,468.3 431.7,468.3 432.2,468.2 432.7,468.2 433.2,468.1 433.7,468.1 434.2,468.0 434.7,467.9 435.2,467.8 435.7,467.7 436.2,467.6 436.7,467.5 437.2,467.4 437.7,467.2 438.2,467.0 438.7,466.8 439.2,466.6 439.7,466.4 440.2,466.1 440.7,465.8 441.2,465.5 441.7,465.1 442.2,464.7 442.7,464.2 443.2,463.7 443.7,463.2 444.2,462.6 444.7,461.9 445.2,461.2 445.7,460.4 446.2,459.6 446.7,458.7 447.2,457.7 447.7,456.6 448.2,455.5 448.7,454.2 449.2,452.9 449.7,451.5 450.2,450.0 450.7,448.4 451.2,446.7 451.7,444.9 452.2,443.0 452.7,441.0 453.2,438.8 453.7,436.6 454.2,434.3 454.7,431.8 455.2,429.3 455.7,426.7 456.2,423.9 456.7,421.1 457.2,418.2 457.7,415.2 458.2,412.1 458.7,408.9 459.2,405.7 459.7,402.4 460.2,399.1 460.7,395.8 461.2,392.4 461.7,389.0 462.2,385.6 462.7,382.2 463.2,378.8 463.7,375.5 464.2,372.2 464.7,369.0 465.2,365.9 465.7,362.8 466.2,359.9 466.7,357.1 467.2,354.4 467.7,351.8 468.2,349.4 468.7,347.2 469.2,345.2 469.7,343.3 470.2,341.7 470.7,340.2 471.2,339.0 471.7,338.0 472.2,337.2 472.7,336.7 473.2,336.4 473.7,336.3 474.2,336.5 474.7,336.9 475.2,337.5 475.7,338.4 476.2,339.5 476.7,340.8 477.2,342.3 477.7,344.0 478.2,346.0 478.7,348.1 479.2,350.4 479.7,352.8 480.2,355.4 480.7,358.2 481.2,361.1 481.7,364.0 482.2,367.1 482.7,370.3 483.2,373.5 483.7,376.8 484.2,380.2 484.7,383.6 485.2,387.0 485.7,390.4 486.2,393.7 486.7,397.1 487.2,400.5 487.7,403.8 488.2,407.0 488.7,410.2 489.2,413.3 489.7,416.4 490.2,419.4 490.7,422.2 491.2,425.0 491.7,427.7 492.2,430.3 492.7,432.8 493.2,435.2 493.7,437.5 494.2,439.7 494.7,441.8 495.2,443.7 495.7,445.6 496.2,447.4 496.7,449.0 497.2,450.6 497.7,452.1 498.2,453.5 498.7,454.7 499.2,455.9 499.7,457.0 500.2,458.1 500.7,459.0 501.2,459.9 501.7,460.7 502.2,461.5 502.7,462.2 503.2,462.8 503.7,463.4 504.2,463.9 504.7,464.4 505.2,464.8 505.7,465.2 506.2,465.6 506.7,465.9 507.2,466.2 507.7,466.5 508.2,466.7 508.7,466.9 509.2,467.1 509.7,467.3 510.2,467.4 510.7,467.6 511.2,467.7 511.7,467.8 512.2,467.9 512.7,468.0 513.2,468.0 513.7,468.1 514.2,468.1 514.7,468.2 515.2,468.2 515.7,468.3 516.2,468.3 516.7,468.3 517.2,468.4 517.7,468.4 518.2,468.4 518.7,468.4 519.2,468.4 519.7,468.4 520.2,468.4 520.7,468.5 521.2,468.5 521.7,468.5 522.2,468.5 522.7,468.5 523.2,468.5 523.7,468.5 524.2,468.5 524.7,468.5 525.2,468.5 525.7,468.5 526.2,468.5 526.7,468.5 527.2,468.5 527.7,468.5 528.2,468.5 528.7,468.5 529.2,468.5 529.7,468.5 530.2,468.5 530.7,468.5 531.2,468.5 531.7,468.5 532.2,468.5 532.7,468.5 533.2,468.5 533.7,468.5 534.2,468.5 534.7,468.5 535.2,468.5 535.7,468.5 536.2,468.5 536.7,468.5 537.2,468.5 537.7,468.5 538.2,468.5 538.7,468.5 539.2,468.5 539.7,468.5 540.2,468.5 540.7,468.5 541.2,468.5 541.7,468.5 542.2,468.5 542.7,468.5 543.2,468.5 543.7,468.5 544.2,468.5 544.7,468.5 545.2,468.5 545.7,468.5 546.2,468.5 546.7,468.5 547.2,468.5 547.7,468.5" fill="none" stroke="#7070f2" stroke-width="1.0" stroke-linejoin="round" /><polyline points="361.7,468.5 362.2,468.5 362.7,468.5 363.2,468.5 363.7,468.5 364.2,468.5 364.7,468.5 365.2,468.5 365.7,468.5 366.2,468.5 366.7,468.5 367.2,468.5 367.7,468.5 368.2,468.5 368.7,468.5 369.2,468.5 369.7,468.5 370.2,468.5 370.7,468.5 371.2,468.5 371.7,468.5 372.2,468.5 372.7,468.5 373.2,468.5 373.7,468.5 374.2,468.5 374.7,468.5 375.2,468.5 375.7,468.5 376.2,468.5 376.7,468.5 377.2,468.5 377.7,468.5 378.2,468.5 378.7,468.5 379.2,468.5 379.7,468.5 380.2,468.5 380.7,468.5 381.2,468.5 381.7,468.5 382.2,468.5 382.7,468.5 383.2,468.5 383.7,468.5 384.2,468.5 384.7,468.5 385.2,468.5 385.7,468.5 386.2,468.5 386.7,468.5 387.2,468.5 387.7,468.5 388.2,468.5 388.7,468.5 389.2,468.5 389.7,468.5 390.2,468.5 390.7,468.5 391.2,468.5 391.7,468.5 392.2,468.5 392.7,468.5 393.2,468.5 393.7,468.5 394.2,468.5 394.7,468.5 395.2,468.5 395.7,468.5 396.2,468.5 396.7,468.5 397.2,468.5 397.7,468.5 398.2,468.5 398.7,468.5 399.2,468.5 399.7,468.5 400.2,468.5 400.7,468.5 401.2,468.5 401.7,468.5 402.2,468.5 402.7,468.5 403.2,468.5 403.7,468.5 404.2,468.5 404.7,468.5 405.2,468.5 405.7,468.4 406.2,468.4 406.7,468.4 407.2,468.4 407.7,468.4 408.2,468.4 408.7,468.4 409.2,468.3 409.7,468.3 410.2,468.3 410.7,468.3 411.2,468.2 411.7,468.2 412.2,468.1 412.7,468.1 413.2,468.0 413.7,468.0 414.2,467.9 414.7,467.8 415.2,467.7 415.7,467.6 416.2,467.5 416.7,467.3 417.2,467.2 417.7,467.0 418.2,466.8 418.7,466.6 419.2,466.4 419.7,466.2 420.2,465.9 420.7,465.6 421.2,465.3 421.7,464.9 422.2,464.6 422.7,464.1 423.2,463.7 423.7,463.2 424.2,462.7 424.7,462.1 425.2,461.5 425.7,460.8 426.2,460.1 426.7,459.4 427.2,458.5 427.7,457.7 428.2,456.7 428.7,455.8 429.2,454.7 429.7,453.6 430.2,452.4 430.7,451.2 431.2,449.9 431.7,448.5 432.2,447.0 432.7,445.5 433.2,443.9 433.7,442.3 434.2,440.5 434.7,438.7 435.2,436.9 435.7,434.9 436.2,432.9 436.7,430.8 437.2,428.6 437.7,426.4 438.2,424.1 438.7,421.7 439.2,419.3 439.7,416.8 440.2,414.3 440.7,411.7 441.2,409.0 441.7,406.3 442.2,403.6 442.7,400.8 443.2,397.9 443.7,395.1 444.2,392.1 444.7,389.2 445.2,386.2 445.7,383.2 446.2,380.2 446.7,377.2 447.2,374.2 447.7,371.1 448.2,368.0 448.7,365.0 449.2,361.9 449.7,358.9 450.2,355.9 450.7,352.8 451.2,349.8 451.7,346.9 452.2,343.9 452.7,341.0 453.2,338.1 453.7,335.3 454.2,332.5 454.7,329.7 455.2,327.0 455.7,324.3 456.2,321.7 456.7,319.2" fill="none" stroke="#66eef4" stroke-width="1.0" stroke-linejoin="round" /><polyline points="477.2,320.1 477.7,323.4 478.2,326.8 478.7,330.4 479.2,334.0 479.7,337.7 480.2,341.5 480.7,345.4 481.2,349.3 481.7,353.3 482.2,357.3 482.7,361.3 483.2,365.4 483.7,369.4 484.2,373.5 484.7,377.5 485.2,381.4 485.7,385.4 486.2,389.3 486.7,393.1 487.2,396.8 487.7,400.5 488.2,404.1 488.7,407.6 489.2,411.0 489.7,414.3 490.2,417.5 490.7,420.6 491.2,423.6 491.7,426.5 492.2,429.2 492.7,431.9 493.2,434.4 493.7,436.8 494.2,439.0 494.7,441.2 495.2,443.3 495.7,445.2 496.2,447.0 496.7,448.7 497.2,450.3 497.7,451.8 498.2,453.2 498.7,454.6 499.2,455.8 499.7,456.9 500.2,458.0 500.7,458.9 501.2,459.8 501.7,460.7 502.2,461.4 502.7,462.1 503.2,462.8 503.7,463.4 504.2,463.9 504.7,464.4 505.2,464.8 505.7,465.2 506.2,465.6 506.7,465.9 507.2,466.2 507.7,466.5 508.2,466.7 508.7,466.9 509.2,467.1 509.7,467.3 510.2,467.4 510.7,467.6 511.2,467.7 511.7,467.8 512.2,467.9 512.7,468.0 513.2,468.0 513.7,468.1 514.2,468.1 514.7,468.2 515.2,468.2 515.7,468.3 516.2,468.3 516.7,468.3 517.2,468.4 517.7,468.4 518.2,468.4 518.7,468.4 519.2,468.4 519.7,468.4 520.2,468.4 520.7,468.5 521.2,468.5 521.7,468.5 522.2,468.5 522.7,468.5 523.2,468.5 523.7,468.5 524.2,468.5 524.7,468.5 525.2,468.5 525.7,468.5 526.2,468.5 526.7,468.5 527.2,468.5 527.7,468.5 528.2,468.5 528.7,468.5 529.2,468.5 529.7,468.5 530.2,468.5 530.7,468.5 531.2,468.5 531.7,468.5 532.2,468.5 532.7,468.5 533.2,468.5 533.7,468.5 534.2,468.5 534.7,468.5 535.2,468.5 535.7,468.5 536.2,468.5 536.7,468.5 537.2,468.5 537.7,468.5 538.2,468.5 538.7,468.5 539.2,468.5 539.7,468.5 540.2,468.5 540.7,468.5 541.2,468.5 541.7,468.5 542.2,468.5 542.7,468.5 543.2,468.5 543.7,468.5 544.2,468.5 544.7,468.5 545.2,468.5 545.7,468.5 546.2,468.5 546.7,468.5 547.2,468.5 547.7,468.5" fill="none" stroke="#66eef4" stroke-width="1.0" stroke-linejoin="round" /><polyline points="361.7,468.1 365.4,443.7 369.1,456.3 372.8,451.4 376.9,454.8 379.4,454.8 382.4,460.0 384.6,467.4 387.9,483.7 392.0,468.9 395.0,453.3 398.7,448.4 402.4,454.8 406.1,449.3 410.1,459.3 413.5,458.2 417.2,460.0 421.4,455.6 424.9,448.9 429.4,457.8 433.1,459.3 436.1,467.4 439.8,451.9 444.3,441.5 447.2,432.6 451.7,422.2 456.1,405.9 458.3,390.0 460.8,393.3 463.3,378.3 466.7,360.0 470.0,353.3 473.3,338.3 476.7,348.3 479.2,361.7 480.8,378.3 483.3,381.7 486.5,399.4 488.7,405.4 492.1,409.1 495.4,423.2 499.4,407.6 503.1,454.3 507.0,440.7 511.0,452.8 514.4,432.1 517.3,431.3 521.3,425.4 525.0,439.5 529.5,452.8 532.8,452.8 536.2,437.3 540.6,429.1 544.3,419.5 548.0,412.1" fill="none" stroke="#606060" stroke-width="1.0" stroke-linejoin="round" /><rect x="476" y="318.6" width="32.5" height="21.8" fill="#fff"/><text x="477.6" y="326.8" font-size="8.8" textLength="29.2" lengthAdjust="spacingAndGlyphs" stroke="#111" stroke-width="0.35">Ta 4p3/2</text><text x="481.7" y="337.9" font-size="6.4" textLength="22.0" lengthAdjust="spacingAndGlyphs" stroke="#111" stroke-width="0.35">404.3 eV</text><rect x="425" y="364" width="33" height="24.5" fill="#fff"/><text x="426.9" y="373.1" font-size="8.8" textLength="29.5" lengthAdjust="spacingAndGlyphs" stroke="#111" stroke-width="0.35">Ta 4p3/2</text><text x="430.3" y="385.3" font-size="6.4" textLength="22.3" lengthAdjust="spacingAndGlyphs" stroke="#111" stroke-width="0.35">401.6 eV</text><rect x="414" y="408.5" width="30.5" height="24.5" fill="#fff"/><text x="419.8" y="417.2" font-size="8.8" textLength="14.6" lengthAdjust="spacingAndGlyphs" stroke="#111" stroke-width="0.35">N 1s</text><text x="416.2" y="428.7" font-size="6.4" textLength="23.5" lengthAdjust="spacingAndGlyphs" stroke="#111" stroke-width="0.35">398.1 eV</text><g transform="translate(299.8,428.7) rotate(-90)"><text x="0" y="0" font-size="9.8" textLength="41.7" lengthAdjust="spacingAndGlyphs" class="s" fill="#000">Counts/ S</text></g><text x="412.4" y="533.7" font-size="9.5" textLength="85.2" lengthAdjust="spacingAndGlyphs" class="s" fill="#000">Binding energy (eV)</text><text x="293.2" y="328.6" font-size="13.5">c</text></g>
</svg>
</body></html>
